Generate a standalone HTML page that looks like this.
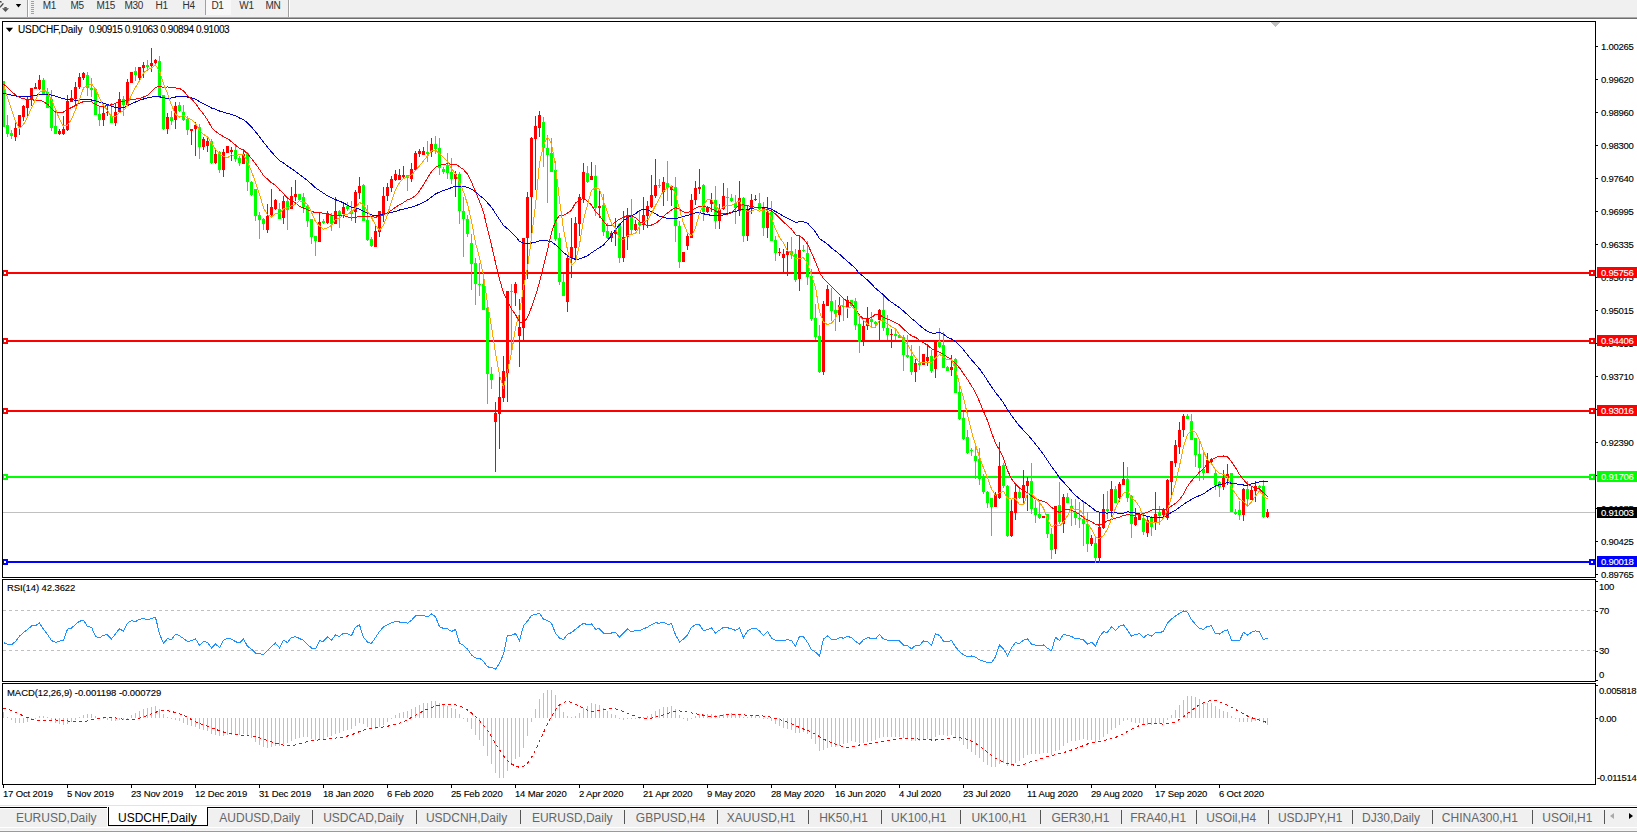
<!DOCTYPE html>
<html><head><meta charset="utf-8"><style>
html,body{margin:0;padding:0;}
body{width:1637px;height:832px;position:relative;overflow:hidden;background:#fff;font-family:"Liberation Sans",sans-serif;}
.t{position:absolute;white-space:nowrap;line-height:1;-webkit-text-stroke:0.12px currentColor;}
svg{position:absolute;left:0;top:0;}
</style></head><body>
<div style="position:absolute;left:0;top:0;width:1637px;height:17px;background:#f0f0f0"></div>
<div style="position:absolute;left:0;top:17px;width:1637px;height:1px;background:#a8a8a8"></div>
<div style="position:absolute;left:0;top:18px;width:1637px;height:1px;background:#6e6e6e"></div>
<div style="position:absolute;left:205px;top:0;width:25px;height:15px;background:#f8f8f8;border-left:1px solid #a0a0a0"></div>
<div style="position:absolute;left:27px;top:0;width:1px;height:17px;background:#a0a0a0"></div>
<div style="position:absolute;left:28px;top:0;width:1px;height:17px;background:#fff"></div>
<div style="position:absolute;left:288px;top:0;width:1px;height:17px;background:#a0a0a0"></div>
<div style="position:absolute;left:289px;top:0;width:1px;height:17px;background:#fff"></div>
<div style="position:absolute;left:31px;top:1px;width:3px;height:14px;background:repeating-linear-gradient(#a0a0a0 0 1px,transparent 1px 2px)"></div>
<svg width="30" height="17" style="position:absolute;left:0;top:0"><polygon points="15.8,3.9 21.2,3.9 18.5,7.4" fill="#000"/></svg>
<svg width="12" height="17" style="position:absolute;left:0;top:0"><polygon points="0,1 1.2,1 2,2.6 0,2.6" fill="#444"/><path d="M3.4,3.4 L0,7.2" stroke="#444" stroke-width="1.4"/><polygon points="2,8.2 9,8.2 5.5,12" fill="#555"/><rect x="4.3" y="7" width="2.4" height="1.4" fill="#555"/></svg>
<div class="t" style="left:42.8px;top:0.5px;font-size:10px;color:#303030;letter-spacing:-0.3px;-webkit-text-stroke:0">M1</div><div class="t" style="left:70.6px;top:0.5px;font-size:10px;color:#303030;letter-spacing:-0.3px;-webkit-text-stroke:0">M5</div><div class="t" style="left:96.5px;top:0.5px;font-size:10px;color:#303030;letter-spacing:-0.3px;-webkit-text-stroke:0">M15</div><div class="t" style="left:124.4px;top:0.5px;font-size:10px;color:#303030;letter-spacing:-0.3px;-webkit-text-stroke:0">M30</div><div class="t" style="left:155.6px;top:0.5px;font-size:10px;color:#303030;letter-spacing:-0.3px;-webkit-text-stroke:0">H1</div><div class="t" style="left:182.5px;top:0.5px;font-size:10px;color:#303030;letter-spacing:-0.3px;-webkit-text-stroke:0">H4</div><div class="t" style="left:211.4px;top:0.5px;font-size:10px;color:#303030;letter-spacing:-0.3px;-webkit-text-stroke:0">D1</div><div class="t" style="left:239.3px;top:0.5px;font-size:10px;color:#303030;letter-spacing:-0.3px;-webkit-text-stroke:0">W1</div><div class="t" style="left:265.5px;top:0.5px;font-size:10px;color:#303030;letter-spacing:-0.3px;-webkit-text-stroke:0">MN</div>
<svg width="1637" height="832" shape-rendering="crispEdges">
<defs><clipPath id="cm"><rect x="3" y="22" width="1592" height="555"/></clipPath><clipPath id="cr"><rect x="3" y="580" width="1592" height="101"/></clipPath><clipPath id="cd"><rect x="3" y="684" width="1592" height="100"/></clipPath></defs>
<g clip-path="url(#cm)">
<rect x="3" y="512" width="1592" height="1" fill="#c0c0c0"/>
<polygon points="1271,22 1280,22 1275.5,27" fill="#c0c0c0"/>
<rect x="3" y="272" width="1592" height="2" fill="#ff0000"/>
<rect x="2" y="270" width="6" height="6" fill="#ff0000"/>
<rect x="4" y="272" width="2" height="2" fill="#fff"/>
<rect x="1589" y="270" width="6" height="6" fill="#ff0000"/>
<rect x="1591" y="272" width="2" height="2" fill="#fff"/>
<rect x="3" y="340" width="1592" height="2" fill="#ff0000"/>
<rect x="2" y="338" width="6" height="6" fill="#ff0000"/>
<rect x="4" y="340" width="2" height="2" fill="#fff"/>
<rect x="1589" y="338" width="6" height="6" fill="#ff0000"/>
<rect x="1591" y="340" width="2" height="2" fill="#fff"/>
<rect x="3" y="410" width="1592" height="2" fill="#ff0000"/>
<rect x="2" y="408" width="6" height="6" fill="#ff0000"/>
<rect x="4" y="410" width="2" height="2" fill="#fff"/>
<rect x="1589" y="408" width="6" height="6" fill="#ff0000"/>
<rect x="1591" y="410" width="2" height="2" fill="#fff"/>
<rect x="3" y="476" width="1592" height="2" fill="#00ff00"/>
<rect x="2" y="474" width="6" height="6" fill="#00ff00"/>
<rect x="4" y="476" width="2" height="2" fill="#fff"/>
<rect x="1589" y="474" width="6" height="6" fill="#00ff00"/>
<rect x="1591" y="476" width="2" height="2" fill="#fff"/>
<rect x="3" y="561" width="1592" height="2" fill="#0000ff"/>
<rect x="2" y="559" width="6" height="6" fill="#0000ff"/>
<rect x="4" y="561" width="2" height="2" fill="#fff"/>
<rect x="1589" y="559" width="6" height="6" fill="#0000ff"/>
<rect x="1591" y="561" width="2" height="2" fill="#fff"/>
<rect x="3" y="81" width="1" height="46" fill="#00ff00"/>
<rect x="2" y="81" width="3" height="46" fill="#00ff00"/>
<rect x="7" y="115" width="1" height="22" fill="#00ff00"/>
<rect x="6" y="125" width="3" height="9" fill="#00ff00"/>
<rect x="11" y="130" width="1" height="9" fill="#00ff00"/>
<rect x="10" y="133" width="3" height="3" fill="#00ff00"/>
<rect x="15" y="123" width="1" height="18" fill="#ff0000"/>
<rect x="14" y="128" width="3" height="9" fill="#ff0000"/>
<rect x="19" y="115" width="1" height="20" fill="#ff0000"/>
<rect x="18" y="115" width="3" height="13" fill="#ff0000"/>
<rect x="23" y="105" width="1" height="16" fill="#ff0000"/>
<rect x="22" y="106" width="3" height="11" fill="#ff0000"/>
<rect x="27" y="97" width="1" height="19" fill="#ff0000"/>
<rect x="26" y="99" width="3" height="9" fill="#ff0000"/>
<rect x="31" y="88" width="1" height="18" fill="#ff0000"/>
<rect x="30" y="88" width="3" height="12" fill="#ff0000"/>
<rect x="35" y="83" width="1" height="6" fill="#ff0000"/>
<rect x="34" y="87" width="3" height="2" fill="#ff0000"/>
<rect x="39" y="75" width="1" height="15" fill="#ff0000"/>
<rect x="38" y="80" width="3" height="9" fill="#ff0000"/>
<rect x="43" y="78" width="1" height="17" fill="#00ff00"/>
<rect x="42" y="80" width="3" height="14" fill="#00ff00"/>
<rect x="47" y="88" width="1" height="20" fill="#00ff00"/>
<rect x="46" y="92" width="3" height="16" fill="#00ff00"/>
<rect x="51" y="90" width="1" height="41" fill="#00ff00"/>
<rect x="50" y="99" width="3" height="29" fill="#00ff00"/>
<rect x="55" y="113" width="1" height="21" fill="#00ff00"/>
<rect x="54" y="126" width="3" height="8" fill="#00ff00"/>
<rect x="59" y="129" width="1" height="6" fill="#ff0000"/>
<rect x="58" y="131" width="3" height="3" fill="#ff0000"/>
<rect x="63" y="116" width="1" height="19" fill="#ff0000"/>
<rect x="62" y="129" width="3" height="5" fill="#ff0000"/>
<rect x="67" y="95" width="1" height="36" fill="#ff0000"/>
<rect x="66" y="101" width="3" height="29" fill="#ff0000"/>
<rect x="71" y="90" width="1" height="12" fill="#ff0000"/>
<rect x="70" y="98" width="3" height="4" fill="#ff0000"/>
<rect x="75" y="82" width="1" height="23" fill="#ff0000"/>
<rect x="74" y="87" width="3" height="12" fill="#ff0000"/>
<rect x="79" y="73" width="1" height="16" fill="#ff0000"/>
<rect x="78" y="77" width="3" height="10" fill="#ff0000"/>
<rect x="83" y="72" width="1" height="8" fill="#ff0000"/>
<rect x="82" y="73" width="3" height="5" fill="#ff0000"/>
<rect x="87" y="72" width="1" height="24" fill="#00ff00"/>
<rect x="86" y="75" width="3" height="13" fill="#00ff00"/>
<rect x="91" y="78" width="1" height="19" fill="#00ff00"/>
<rect x="90" y="88" width="3" height="2" fill="#00ff00"/>
<rect x="95" y="89" width="1" height="26" fill="#00ff00"/>
<rect x="94" y="89" width="3" height="26" fill="#00ff00"/>
<rect x="99" y="107" width="1" height="19" fill="#00ff00"/>
<rect x="98" y="114" width="3" height="6" fill="#00ff00"/>
<rect x="103" y="106" width="1" height="20" fill="#ff0000"/>
<rect x="102" y="113" width="3" height="7" fill="#ff0000"/>
<rect x="107" y="104" width="1" height="12" fill="#ff0000"/>
<rect x="106" y="112" width="3" height="1" fill="#ff0000"/>
<rect x="111" y="103" width="1" height="20" fill="#00ff00"/>
<rect x="110" y="116" width="3" height="7" fill="#00ff00"/>
<rect x="115" y="103" width="1" height="23" fill="#ff0000"/>
<rect x="114" y="112" width="3" height="11" fill="#ff0000"/>
<rect x="119" y="92" width="1" height="21" fill="#ff0000"/>
<rect x="118" y="99" width="3" height="13" fill="#ff0000"/>
<rect x="123" y="96" width="1" height="20" fill="#00ff00"/>
<rect x="122" y="99" width="3" height="6" fill="#00ff00"/>
<rect x="127" y="79" width="1" height="26" fill="#ff0000"/>
<rect x="126" y="82" width="3" height="23" fill="#ff0000"/>
<rect x="131" y="72" width="1" height="11" fill="#ff0000"/>
<rect x="130" y="72" width="3" height="11" fill="#ff0000"/>
<rect x="135" y="67" width="1" height="14" fill="#00ff00"/>
<rect x="134" y="71" width="3" height="4" fill="#00ff00"/>
<rect x="139" y="67" width="1" height="13" fill="#ff0000"/>
<rect x="138" y="67" width="3" height="11" fill="#ff0000"/>
<rect x="143" y="62" width="1" height="16" fill="#ff0000"/>
<rect x="142" y="65" width="3" height="3" fill="#ff0000"/>
<rect x="147" y="60" width="1" height="11" fill="#00ff00"/>
<rect x="146" y="65" width="3" height="2" fill="#00ff00"/>
<rect x="151" y="48" width="1" height="24" fill="#ff0000"/>
<rect x="150" y="63" width="3" height="3" fill="#ff0000"/>
<rect x="155" y="59" width="1" height="5" fill="#ff0000"/>
<rect x="154" y="60" width="3" height="3" fill="#ff0000"/>
<rect x="159" y="56" width="1" height="42" fill="#00ff00"/>
<rect x="158" y="61" width="3" height="35" fill="#00ff00"/>
<rect x="163" y="95" width="1" height="35" fill="#00ff00"/>
<rect x="162" y="95" width="3" height="34" fill="#00ff00"/>
<rect x="167" y="113" width="1" height="21" fill="#ff0000"/>
<rect x="166" y="117" width="3" height="12" fill="#ff0000"/>
<rect x="171" y="111" width="1" height="14" fill="#00ff00"/>
<rect x="170" y="117" width="3" height="4" fill="#00ff00"/>
<rect x="175" y="102" width="1" height="27" fill="#ff0000"/>
<rect x="174" y="106" width="3" height="14" fill="#ff0000"/>
<rect x="179" y="102" width="1" height="10" fill="#00ff00"/>
<rect x="178" y="105" width="3" height="6" fill="#00ff00"/>
<rect x="183" y="105" width="1" height="16" fill="#00ff00"/>
<rect x="182" y="112" width="3" height="8" fill="#00ff00"/>
<rect x="187" y="116" width="1" height="19" fill="#00ff00"/>
<rect x="186" y="119" width="3" height="11" fill="#00ff00"/>
<rect x="191" y="129" width="1" height="16" fill="#ff0000"/>
<rect x="190" y="129" width="3" height="2" fill="#ff0000"/>
<rect x="195" y="122" width="1" height="34" fill="#ff0000"/>
<rect x="194" y="125" width="3" height="4" fill="#ff0000"/>
<rect x="199" y="124" width="1" height="35" fill="#00ff00"/>
<rect x="198" y="127" width="3" height="20" fill="#00ff00"/>
<rect x="203" y="137" width="1" height="13" fill="#ff0000"/>
<rect x="202" y="139" width="3" height="8" fill="#ff0000"/>
<rect x="207" y="137" width="1" height="15" fill="#ff0000"/>
<rect x="206" y="141" width="3" height="5" fill="#ff0000"/>
<rect x="211" y="139" width="1" height="25" fill="#00ff00"/>
<rect x="210" y="141" width="3" height="22" fill="#00ff00"/>
<rect x="215" y="150" width="1" height="14" fill="#ff0000"/>
<rect x="214" y="154" width="3" height="9" fill="#ff0000"/>
<rect x="219" y="151" width="1" height="22" fill="#00ff00"/>
<rect x="218" y="152" width="3" height="18" fill="#00ff00"/>
<rect x="223" y="149" width="1" height="28" fill="#ff0000"/>
<rect x="222" y="152" width="3" height="18" fill="#ff0000"/>
<rect x="227" y="146" width="1" height="7" fill="#ff0000"/>
<rect x="226" y="146" width="3" height="7" fill="#ff0000"/>
<rect x="231" y="147" width="1" height="14" fill="#ff0000"/>
<rect x="230" y="150" width="3" height="2" fill="#ff0000"/>
<rect x="235" y="145" width="1" height="17" fill="#00ff00"/>
<rect x="234" y="150" width="3" height="9" fill="#00ff00"/>
<rect x="239" y="156" width="1" height="10" fill="#00ff00"/>
<rect x="238" y="158" width="3" height="5" fill="#00ff00"/>
<rect x="243" y="151" width="1" height="13" fill="#ff0000"/>
<rect x="242" y="154" width="3" height="10" fill="#ff0000"/>
<rect x="247" y="152" width="1" height="39" fill="#00ff00"/>
<rect x="246" y="153" width="3" height="29" fill="#00ff00"/>
<rect x="251" y="181" width="1" height="15" fill="#00ff00"/>
<rect x="250" y="182" width="3" height="13" fill="#00ff00"/>
<rect x="255" y="189" width="1" height="32" fill="#00ff00"/>
<rect x="254" y="189" width="3" height="27" fill="#00ff00"/>
<rect x="259" y="212" width="1" height="27" fill="#00ff00"/>
<rect x="258" y="215" width="3" height="5" fill="#00ff00"/>
<rect x="263" y="218" width="1" height="12" fill="#00ff00"/>
<rect x="262" y="219" width="3" height="5" fill="#00ff00"/>
<rect x="267" y="204" width="1" height="29" fill="#ff0000"/>
<rect x="266" y="216" width="3" height="14" fill="#ff0000"/>
<rect x="271" y="189" width="1" height="29" fill="#ff0000"/>
<rect x="270" y="207" width="3" height="8" fill="#ff0000"/>
<rect x="275" y="199" width="1" height="11" fill="#ff0000"/>
<rect x="274" y="200" width="3" height="9" fill="#ff0000"/>
<rect x="279" y="203" width="1" height="16" fill="#00ff00"/>
<rect x="278" y="209" width="3" height="10" fill="#00ff00"/>
<rect x="283" y="196" width="1" height="28" fill="#ff0000"/>
<rect x="282" y="201" width="3" height="17" fill="#ff0000"/>
<rect x="287" y="198" width="1" height="32" fill="#00ff00"/>
<rect x="286" y="201" width="3" height="9" fill="#00ff00"/>
<rect x="291" y="187" width="1" height="22" fill="#ff0000"/>
<rect x="290" y="196" width="3" height="13" fill="#ff0000"/>
<rect x="295" y="180" width="1" height="21" fill="#ff0000"/>
<rect x="294" y="194" width="3" height="3" fill="#ff0000"/>
<rect x="299" y="194" width="1" height="6" fill="#00ff00"/>
<rect x="298" y="194" width="3" height="6" fill="#00ff00"/>
<rect x="303" y="193" width="1" height="20" fill="#00ff00"/>
<rect x="302" y="197" width="3" height="10" fill="#00ff00"/>
<rect x="307" y="205" width="1" height="22" fill="#00ff00"/>
<rect x="306" y="206" width="3" height="15" fill="#00ff00"/>
<rect x="311" y="219" width="1" height="25" fill="#00ff00"/>
<rect x="310" y="219" width="3" height="18" fill="#00ff00"/>
<rect x="315" y="236" width="1" height="20" fill="#00ff00"/>
<rect x="314" y="236" width="3" height="5" fill="#00ff00"/>
<rect x="319" y="212" width="1" height="30" fill="#ff0000"/>
<rect x="318" y="222" width="3" height="20" fill="#ff0000"/>
<rect x="323" y="219" width="1" height="5" fill="#00ff00"/>
<rect x="322" y="221" width="3" height="2" fill="#00ff00"/>
<rect x="327" y="211" width="1" height="13" fill="#ff0000"/>
<rect x="326" y="213" width="3" height="10" fill="#ff0000"/>
<rect x="331" y="213" width="1" height="18" fill="#00ff00"/>
<rect x="330" y="215" width="3" height="9" fill="#00ff00"/>
<rect x="335" y="197" width="1" height="27" fill="#ff0000"/>
<rect x="334" y="211" width="3" height="13" fill="#ff0000"/>
<rect x="339" y="210" width="1" height="18" fill="#00ff00"/>
<rect x="338" y="211" width="3" height="4" fill="#00ff00"/>
<rect x="343" y="203" width="1" height="15" fill="#ff0000"/>
<rect x="342" y="207" width="3" height="7" fill="#ff0000"/>
<rect x="347" y="202" width="1" height="9" fill="#00ff00"/>
<rect x="346" y="206" width="3" height="3" fill="#00ff00"/>
<rect x="351" y="201" width="1" height="20" fill="#00ff00"/>
<rect x="350" y="211" width="3" height="3" fill="#00ff00"/>
<rect x="355" y="190" width="1" height="33" fill="#ff0000"/>
<rect x="354" y="192" width="3" height="20" fill="#ff0000"/>
<rect x="359" y="177" width="1" height="22" fill="#ff0000"/>
<rect x="358" y="186" width="3" height="7" fill="#ff0000"/>
<rect x="363" y="184" width="1" height="37" fill="#00ff00"/>
<rect x="362" y="185" width="3" height="36" fill="#00ff00"/>
<rect x="367" y="205" width="1" height="36" fill="#00ff00"/>
<rect x="366" y="220" width="3" height="20" fill="#00ff00"/>
<rect x="371" y="237" width="1" height="10" fill="#00ff00"/>
<rect x="370" y="239" width="3" height="7" fill="#00ff00"/>
<rect x="375" y="226" width="1" height="21" fill="#ff0000"/>
<rect x="374" y="231" width="3" height="16" fill="#ff0000"/>
<rect x="379" y="211" width="1" height="26" fill="#ff0000"/>
<rect x="378" y="211" width="3" height="21" fill="#ff0000"/>
<rect x="383" y="187" width="1" height="35" fill="#ff0000"/>
<rect x="382" y="196" width="3" height="18" fill="#ff0000"/>
<rect x="387" y="183" width="1" height="18" fill="#ff0000"/>
<rect x="386" y="187" width="3" height="9" fill="#ff0000"/>
<rect x="391" y="176" width="1" height="16" fill="#ff0000"/>
<rect x="390" y="179" width="3" height="9" fill="#ff0000"/>
<rect x="395" y="170" width="1" height="11" fill="#ff0000"/>
<rect x="394" y="174" width="3" height="6" fill="#ff0000"/>
<rect x="399" y="169" width="1" height="11" fill="#ff0000"/>
<rect x="398" y="175" width="3" height="5" fill="#ff0000"/>
<rect x="403" y="166" width="1" height="12" fill="#ff0000"/>
<rect x="402" y="175" width="3" height="2" fill="#ff0000"/>
<rect x="407" y="175" width="1" height="16" fill="#00ff00"/>
<rect x="406" y="175" width="3" height="3" fill="#00ff00"/>
<rect x="411" y="163" width="1" height="19" fill="#ff0000"/>
<rect x="410" y="169" width="3" height="10" fill="#ff0000"/>
<rect x="415" y="151" width="1" height="19" fill="#ff0000"/>
<rect x="414" y="153" width="3" height="17" fill="#ff0000"/>
<rect x="419" y="149" width="1" height="8" fill="#ff0000"/>
<rect x="418" y="151" width="3" height="3" fill="#ff0000"/>
<rect x="423" y="147" width="1" height="8" fill="#ff0000"/>
<rect x="422" y="151" width="3" height="4" fill="#ff0000"/>
<rect x="427" y="141" width="1" height="21" fill="#00ff00"/>
<rect x="426" y="152" width="3" height="2" fill="#00ff00"/>
<rect x="431" y="138" width="1" height="19" fill="#ff0000"/>
<rect x="430" y="144" width="3" height="8" fill="#ff0000"/>
<rect x="435" y="136" width="1" height="18" fill="#00ff00"/>
<rect x="434" y="144" width="3" height="5" fill="#00ff00"/>
<rect x="439" y="138" width="1" height="37" fill="#00ff00"/>
<rect x="438" y="148" width="3" height="20" fill="#00ff00"/>
<rect x="443" y="167" width="1" height="7" fill="#00ff00"/>
<rect x="442" y="169" width="3" height="3" fill="#00ff00"/>
<rect x="447" y="153" width="1" height="26" fill="#00ff00"/>
<rect x="446" y="165" width="3" height="8" fill="#00ff00"/>
<rect x="451" y="158" width="1" height="26" fill="#00ff00"/>
<rect x="450" y="172" width="3" height="7" fill="#00ff00"/>
<rect x="455" y="171" width="1" height="26" fill="#ff0000"/>
<rect x="454" y="174" width="3" height="5" fill="#ff0000"/>
<rect x="459" y="172" width="1" height="52" fill="#00ff00"/>
<rect x="458" y="174" width="3" height="37" fill="#00ff00"/>
<rect x="463" y="197" width="1" height="60" fill="#00ff00"/>
<rect x="462" y="211" width="3" height="8" fill="#00ff00"/>
<rect x="467" y="215" width="1" height="22" fill="#00ff00"/>
<rect x="466" y="219" width="3" height="15" fill="#00ff00"/>
<rect x="471" y="234" width="1" height="56" fill="#00ff00"/>
<rect x="470" y="243" width="3" height="21" fill="#00ff00"/>
<rect x="475" y="258" width="1" height="47" fill="#00ff00"/>
<rect x="474" y="263" width="3" height="21" fill="#00ff00"/>
<rect x="479" y="263" width="1" height="33" fill="#00ff00"/>
<rect x="478" y="284" width="3" height="1" fill="#00ff00"/>
<rect x="483" y="278" width="1" height="32" fill="#00ff00"/>
<rect x="482" y="284" width="3" height="26" fill="#00ff00"/>
<rect x="487" y="306" width="1" height="98" fill="#00ff00"/>
<rect x="486" y="308" width="3" height="66" fill="#00ff00"/>
<rect x="491" y="367" width="1" height="22" fill="#00ff00"/>
<rect x="490" y="374" width="3" height="6" fill="#00ff00"/>
<rect x="495" y="402" width="1" height="70" fill="#ff0000"/>
<rect x="494" y="413" width="3" height="9" fill="#ff0000"/>
<rect x="499" y="376" width="1" height="73" fill="#ff0000"/>
<rect x="498" y="397" width="3" height="17" fill="#ff0000"/>
<rect x="503" y="356" width="1" height="46" fill="#ff0000"/>
<rect x="502" y="371" width="3" height="27" fill="#ff0000"/>
<rect x="507" y="291" width="1" height="111" fill="#ff0000"/>
<rect x="506" y="291" width="3" height="82" fill="#ff0000"/>
<rect x="511" y="284" width="1" height="66" fill="#00ff00"/>
<rect x="510" y="291" width="3" height="1" fill="#00ff00"/>
<rect x="515" y="282" width="1" height="24" fill="#ff0000"/>
<rect x="514" y="284" width="3" height="9" fill="#ff0000"/>
<rect x="519" y="299" width="1" height="68" fill="#ff0000"/>
<rect x="518" y="327" width="3" height="9" fill="#ff0000"/>
<rect x="523" y="238" width="1" height="102" fill="#ff0000"/>
<rect x="522" y="238" width="3" height="90" fill="#ff0000"/>
<rect x="527" y="192" width="1" height="87" fill="#ff0000"/>
<rect x="526" y="197" width="3" height="41" fill="#ff0000"/>
<rect x="531" y="137" width="1" height="96" fill="#ff0000"/>
<rect x="530" y="138" width="3" height="59" fill="#ff0000"/>
<rect x="535" y="116" width="1" height="74" fill="#ff0000"/>
<rect x="534" y="126" width="3" height="13" fill="#ff0000"/>
<rect x="539" y="111" width="1" height="26" fill="#ff0000"/>
<rect x="538" y="115" width="3" height="13" fill="#ff0000"/>
<rect x="543" y="117" width="1" height="50" fill="#00ff00"/>
<rect x="542" y="122" width="3" height="26" fill="#00ff00"/>
<rect x="547" y="135" width="1" height="68" fill="#00ff00"/>
<rect x="546" y="148" width="3" height="7" fill="#00ff00"/>
<rect x="551" y="138" width="1" height="34" fill="#00ff00"/>
<rect x="550" y="153" width="3" height="19" fill="#00ff00"/>
<rect x="555" y="161" width="1" height="80" fill="#00ff00"/>
<rect x="554" y="170" width="3" height="69" fill="#00ff00"/>
<rect x="559" y="233" width="1" height="52" fill="#00ff00"/>
<rect x="558" y="238" width="3" height="44" fill="#00ff00"/>
<rect x="563" y="274" width="1" height="22" fill="#00ff00"/>
<rect x="562" y="282" width="3" height="14" fill="#00ff00"/>
<rect x="567" y="256" width="1" height="56" fill="#ff0000"/>
<rect x="566" y="258" width="3" height="44" fill="#ff0000"/>
<rect x="571" y="218" width="1" height="60" fill="#ff0000"/>
<rect x="570" y="247" width="3" height="11" fill="#ff0000"/>
<rect x="575" y="217" width="1" height="42" fill="#ff0000"/>
<rect x="574" y="223" width="3" height="25" fill="#ff0000"/>
<rect x="579" y="194" width="1" height="42" fill="#ff0000"/>
<rect x="578" y="197" width="3" height="27" fill="#ff0000"/>
<rect x="583" y="163" width="1" height="40" fill="#ff0000"/>
<rect x="582" y="172" width="3" height="26" fill="#ff0000"/>
<rect x="587" y="166" width="1" height="17" fill="#00ff00"/>
<rect x="586" y="173" width="3" height="9" fill="#00ff00"/>
<rect x="591" y="162" width="1" height="18" fill="#ff0000"/>
<rect x="590" y="176" width="3" height="4" fill="#ff0000"/>
<rect x="595" y="165" width="1" height="51" fill="#00ff00"/>
<rect x="594" y="176" width="3" height="32" fill="#00ff00"/>
<rect x="599" y="190" width="1" height="28" fill="#ff0000"/>
<rect x="598" y="206" width="3" height="2" fill="#ff0000"/>
<rect x="603" y="194" width="1" height="42" fill="#00ff00"/>
<rect x="602" y="205" width="3" height="27" fill="#00ff00"/>
<rect x="607" y="223" width="1" height="16" fill="#00ff00"/>
<rect x="606" y="231" width="3" height="7" fill="#00ff00"/>
<rect x="611" y="231" width="1" height="11" fill="#ff0000"/>
<rect x="610" y="233" width="3" height="5" fill="#ff0000"/>
<rect x="615" y="218" width="1" height="28" fill="#ff0000"/>
<rect x="614" y="230" width="3" height="4" fill="#ff0000"/>
<rect x="619" y="223" width="1" height="40" fill="#00ff00"/>
<rect x="618" y="224" width="3" height="34" fill="#00ff00"/>
<rect x="623" y="211" width="1" height="51" fill="#ff0000"/>
<rect x="622" y="237" width="3" height="21" fill="#ff0000"/>
<rect x="627" y="208" width="1" height="42" fill="#ff0000"/>
<rect x="626" y="215" width="3" height="22" fill="#ff0000"/>
<rect x="631" y="199" width="1" height="35" fill="#00ff00"/>
<rect x="630" y="216" width="3" height="14" fill="#00ff00"/>
<rect x="635" y="220" width="1" height="11" fill="#ff0000"/>
<rect x="634" y="224" width="3" height="6" fill="#ff0000"/>
<rect x="639" y="211" width="1" height="23" fill="#00ff00"/>
<rect x="638" y="222" width="3" height="3" fill="#00ff00"/>
<rect x="643" y="197" width="1" height="33" fill="#ff0000"/>
<rect x="642" y="215" width="3" height="10" fill="#ff0000"/>
<rect x="647" y="201" width="1" height="27" fill="#ff0000"/>
<rect x="646" y="206" width="3" height="10" fill="#ff0000"/>
<rect x="651" y="175" width="1" height="33" fill="#ff0000"/>
<rect x="650" y="195" width="3" height="12" fill="#ff0000"/>
<rect x="655" y="159" width="1" height="39" fill="#ff0000"/>
<rect x="654" y="185" width="3" height="11" fill="#ff0000"/>
<rect x="659" y="179" width="1" height="9" fill="#00ff00"/>
<rect x="658" y="185" width="3" height="1" fill="#00ff00"/>
<rect x="663" y="177" width="1" height="29" fill="#ff0000"/>
<rect x="662" y="182" width="3" height="10" fill="#ff0000"/>
<rect x="667" y="161" width="1" height="40" fill="#00ff00"/>
<rect x="666" y="183" width="3" height="5" fill="#00ff00"/>
<rect x="671" y="185" width="1" height="21" fill="#ff0000"/>
<rect x="670" y="186" width="3" height="4" fill="#ff0000"/>
<rect x="675" y="177" width="1" height="65" fill="#00ff00"/>
<rect x="674" y="187" width="3" height="39" fill="#00ff00"/>
<rect x="679" y="221" width="1" height="47" fill="#00ff00"/>
<rect x="678" y="226" width="3" height="36" fill="#00ff00"/>
<rect x="683" y="252" width="1" height="10" fill="#ff0000"/>
<rect x="682" y="252" width="3" height="10" fill="#ff0000"/>
<rect x="687" y="234" width="1" height="16" fill="#ff0000"/>
<rect x="686" y="236" width="3" height="10" fill="#ff0000"/>
<rect x="691" y="194" width="1" height="44" fill="#ff0000"/>
<rect x="690" y="200" width="3" height="38" fill="#ff0000"/>
<rect x="695" y="181" width="1" height="24" fill="#ff0000"/>
<rect x="694" y="188" width="3" height="12" fill="#ff0000"/>
<rect x="699" y="169" width="1" height="25" fill="#ff0000"/>
<rect x="698" y="187" width="3" height="2" fill="#ff0000"/>
<rect x="703" y="184" width="1" height="37" fill="#00ff00"/>
<rect x="702" y="185" width="3" height="27" fill="#00ff00"/>
<rect x="707" y="206" width="1" height="7" fill="#ff0000"/>
<rect x="706" y="207" width="3" height="5" fill="#ff0000"/>
<rect x="711" y="193" width="1" height="19" fill="#ff0000"/>
<rect x="710" y="200" width="3" height="4" fill="#ff0000"/>
<rect x="715" y="186" width="1" height="43" fill="#00ff00"/>
<rect x="714" y="200" width="3" height="21" fill="#00ff00"/>
<rect x="719" y="204" width="1" height="25" fill="#ff0000"/>
<rect x="718" y="209" width="3" height="12" fill="#ff0000"/>
<rect x="723" y="183" width="1" height="27" fill="#ff0000"/>
<rect x="722" y="196" width="3" height="13" fill="#ff0000"/>
<rect x="727" y="188" width="1" height="27" fill="#00ff00"/>
<rect x="726" y="197" width="3" height="1" fill="#00ff00"/>
<rect x="731" y="194" width="1" height="8" fill="#00ff00"/>
<rect x="730" y="198" width="3" height="3" fill="#00ff00"/>
<rect x="735" y="195" width="1" height="29" fill="#00ff00"/>
<rect x="734" y="203" width="3" height="5" fill="#00ff00"/>
<rect x="739" y="181" width="1" height="35" fill="#ff0000"/>
<rect x="738" y="198" width="3" height="13" fill="#ff0000"/>
<rect x="743" y="197" width="1" height="45" fill="#00ff00"/>
<rect x="742" y="198" width="3" height="38" fill="#00ff00"/>
<rect x="747" y="205" width="1" height="36" fill="#ff0000"/>
<rect x="746" y="210" width="3" height="26" fill="#ff0000"/>
<rect x="751" y="194" width="1" height="20" fill="#ff0000"/>
<rect x="750" y="200" width="3" height="9" fill="#ff0000"/>
<rect x="755" y="195" width="1" height="6" fill="#ff0000"/>
<rect x="754" y="199" width="3" height="1" fill="#ff0000"/>
<rect x="759" y="193" width="1" height="17" fill="#00ff00"/>
<rect x="758" y="203" width="3" height="6" fill="#00ff00"/>
<rect x="763" y="202" width="1" height="34" fill="#00ff00"/>
<rect x="762" y="209" width="3" height="19" fill="#00ff00"/>
<rect x="767" y="197" width="1" height="41" fill="#ff0000"/>
<rect x="766" y="212" width="3" height="16" fill="#ff0000"/>
<rect x="771" y="201" width="1" height="40" fill="#00ff00"/>
<rect x="770" y="212" width="3" height="29" fill="#00ff00"/>
<rect x="775" y="236" width="1" height="25" fill="#00ff00"/>
<rect x="774" y="240" width="3" height="13" fill="#00ff00"/>
<rect x="779" y="248" width="1" height="8" fill="#ff0000"/>
<rect x="778" y="252" width="3" height="1" fill="#ff0000"/>
<rect x="783" y="249" width="1" height="23" fill="#ff0000"/>
<rect x="782" y="254" width="3" height="4" fill="#ff0000"/>
<rect x="787" y="242" width="1" height="34" fill="#ff0000"/>
<rect x="786" y="251" width="3" height="4" fill="#ff0000"/>
<rect x="791" y="237" width="1" height="22" fill="#00ff00"/>
<rect x="790" y="251" width="3" height="4" fill="#00ff00"/>
<rect x="795" y="249" width="1" height="33" fill="#00ff00"/>
<rect x="794" y="254" width="3" height="26" fill="#00ff00"/>
<rect x="799" y="236" width="1" height="55" fill="#ff0000"/>
<rect x="798" y="250" width="3" height="29" fill="#ff0000"/>
<rect x="803" y="245" width="1" height="7" fill="#00ff00"/>
<rect x="802" y="250" width="3" height="1" fill="#00ff00"/>
<rect x="807" y="241" width="1" height="44" fill="#00ff00"/>
<rect x="806" y="253" width="3" height="24" fill="#00ff00"/>
<rect x="811" y="269" width="1" height="52" fill="#00ff00"/>
<rect x="810" y="276" width="3" height="43" fill="#00ff00"/>
<rect x="815" y="304" width="1" height="36" fill="#00ff00"/>
<rect x="814" y="318" width="3" height="19" fill="#00ff00"/>
<rect x="819" y="325" width="1" height="48" fill="#00ff00"/>
<rect x="818" y="336" width="3" height="36" fill="#00ff00"/>
<rect x="823" y="301" width="1" height="74" fill="#ff0000"/>
<rect x="822" y="304" width="3" height="68" fill="#ff0000"/>
<rect x="827" y="285" width="1" height="21" fill="#ff0000"/>
<rect x="826" y="289" width="3" height="17" fill="#ff0000"/>
<rect x="831" y="288" width="1" height="33" fill="#00ff00"/>
<rect x="830" y="301" width="3" height="10" fill="#00ff00"/>
<rect x="835" y="300" width="1" height="31" fill="#00ff00"/>
<rect x="834" y="310" width="3" height="4" fill="#00ff00"/>
<rect x="839" y="297" width="1" height="25" fill="#ff0000"/>
<rect x="838" y="305" width="3" height="10" fill="#ff0000"/>
<rect x="843" y="299" width="1" height="22" fill="#00ff00"/>
<rect x="842" y="306" width="3" height="1" fill="#00ff00"/>
<rect x="847" y="296" width="1" height="22" fill="#ff0000"/>
<rect x="846" y="300" width="3" height="7" fill="#ff0000"/>
<rect x="851" y="300" width="1" height="6" fill="#00ff00"/>
<rect x="850" y="300" width="3" height="6" fill="#00ff00"/>
<rect x="855" y="298" width="1" height="32" fill="#00ff00"/>
<rect x="854" y="301" width="3" height="24" fill="#00ff00"/>
<rect x="859" y="316" width="1" height="37" fill="#00ff00"/>
<rect x="858" y="324" width="3" height="18" fill="#00ff00"/>
<rect x="863" y="320" width="1" height="26" fill="#ff0000"/>
<rect x="862" y="326" width="3" height="16" fill="#ff0000"/>
<rect x="867" y="307" width="1" height="23" fill="#ff0000"/>
<rect x="866" y="318" width="3" height="8" fill="#ff0000"/>
<rect x="871" y="312" width="1" height="16" fill="#00ff00"/>
<rect x="870" y="319" width="3" height="3" fill="#00ff00"/>
<rect x="875" y="321" width="1" height="7" fill="#00ff00"/>
<rect x="874" y="322" width="3" height="2" fill="#00ff00"/>
<rect x="879" y="309" width="1" height="31" fill="#ff0000"/>
<rect x="878" y="310" width="3" height="10" fill="#ff0000"/>
<rect x="883" y="294" width="1" height="37" fill="#00ff00"/>
<rect x="882" y="310" width="3" height="18" fill="#00ff00"/>
<rect x="887" y="315" width="1" height="25" fill="#00ff00"/>
<rect x="886" y="328" width="3" height="7" fill="#00ff00"/>
<rect x="891" y="329" width="1" height="19" fill="#ff0000"/>
<rect x="890" y="334" width="3" height="1" fill="#ff0000"/>
<rect x="895" y="328" width="1" height="12" fill="#00ff00"/>
<rect x="894" y="334" width="3" height="2" fill="#00ff00"/>
<rect x="899" y="334" width="1" height="4" fill="#00ff00"/>
<rect x="898" y="335" width="3" height="3" fill="#00ff00"/>
<rect x="903" y="335" width="1" height="36" fill="#00ff00"/>
<rect x="902" y="337" width="3" height="18" fill="#00ff00"/>
<rect x="907" y="335" width="1" height="23" fill="#00ff00"/>
<rect x="906" y="355" width="3" height="2" fill="#00ff00"/>
<rect x="911" y="345" width="1" height="30" fill="#00ff00"/>
<rect x="910" y="356" width="3" height="16" fill="#00ff00"/>
<rect x="915" y="359" width="1" height="23" fill="#ff0000"/>
<rect x="914" y="363" width="3" height="9" fill="#ff0000"/>
<rect x="919" y="346" width="1" height="24" fill="#00ff00"/>
<rect x="918" y="363" width="3" height="2" fill="#00ff00"/>
<rect x="923" y="354" width="1" height="11" fill="#ff0000"/>
<rect x="922" y="354" width="3" height="11" fill="#ff0000"/>
<rect x="927" y="344" width="1" height="22" fill="#ff0000"/>
<rect x="926" y="357" width="3" height="4" fill="#ff0000"/>
<rect x="931" y="350" width="1" height="23" fill="#00ff00"/>
<rect x="930" y="356" width="3" height="15" fill="#00ff00"/>
<rect x="935" y="341" width="1" height="37" fill="#ff0000"/>
<rect x="934" y="341" width="3" height="28" fill="#ff0000"/>
<rect x="939" y="328" width="1" height="20" fill="#00ff00"/>
<rect x="938" y="341" width="3" height="6" fill="#00ff00"/>
<rect x="943" y="332" width="1" height="36" fill="#00ff00"/>
<rect x="942" y="345" width="3" height="23" fill="#00ff00"/>
<rect x="947" y="366" width="1" height="5" fill="#00ff00"/>
<rect x="946" y="367" width="3" height="4" fill="#00ff00"/>
<rect x="951" y="355" width="1" height="21" fill="#ff0000"/>
<rect x="950" y="367" width="3" height="3" fill="#ff0000"/>
<rect x="955" y="358" width="1" height="35" fill="#00ff00"/>
<rect x="954" y="359" width="3" height="34" fill="#00ff00"/>
<rect x="959" y="386" width="1" height="34" fill="#00ff00"/>
<rect x="958" y="392" width="3" height="27" fill="#00ff00"/>
<rect x="963" y="412" width="1" height="28" fill="#00ff00"/>
<rect x="962" y="418" width="3" height="21" fill="#00ff00"/>
<rect x="967" y="430" width="1" height="24" fill="#00ff00"/>
<rect x="966" y="437" width="3" height="16" fill="#00ff00"/>
<rect x="971" y="448" width="1" height="8" fill="#00ff00"/>
<rect x="970" y="450" width="3" height="1" fill="#00ff00"/>
<rect x="975" y="447" width="1" height="32" fill="#00ff00"/>
<rect x="974" y="456" width="3" height="5" fill="#00ff00"/>
<rect x="979" y="448" width="1" height="37" fill="#00ff00"/>
<rect x="978" y="459" width="3" height="20" fill="#00ff00"/>
<rect x="983" y="474" width="1" height="20" fill="#00ff00"/>
<rect x="982" y="477" width="3" height="15" fill="#00ff00"/>
<rect x="987" y="491" width="1" height="17" fill="#00ff00"/>
<rect x="986" y="492" width="3" height="11" fill="#00ff00"/>
<rect x="991" y="498" width="1" height="38" fill="#00ff00"/>
<rect x="990" y="498" width="3" height="9" fill="#00ff00"/>
<rect x="995" y="492" width="1" height="15" fill="#ff0000"/>
<rect x="994" y="494" width="3" height="13" fill="#ff0000"/>
<rect x="999" y="442" width="1" height="57" fill="#ff0000"/>
<rect x="998" y="466" width="3" height="32" fill="#ff0000"/>
<rect x="1003" y="463" width="1" height="25" fill="#00ff00"/>
<rect x="1002" y="465" width="3" height="21" fill="#00ff00"/>
<rect x="1007" y="485" width="1" height="52" fill="#00ff00"/>
<rect x="1006" y="486" width="3" height="50" fill="#00ff00"/>
<rect x="1011" y="499" width="1" height="38" fill="#ff0000"/>
<rect x="1010" y="511" width="3" height="25" fill="#ff0000"/>
<rect x="1015" y="483" width="1" height="37" fill="#ff0000"/>
<rect x="1014" y="492" width="3" height="21" fill="#ff0000"/>
<rect x="1019" y="488" width="1" height="11" fill="#00ff00"/>
<rect x="1018" y="492" width="3" height="6" fill="#00ff00"/>
<rect x="1023" y="470" width="1" height="33" fill="#ff0000"/>
<rect x="1022" y="485" width="3" height="13" fill="#ff0000"/>
<rect x="1027" y="477" width="1" height="34" fill="#ff0000"/>
<rect x="1026" y="481" width="3" height="5" fill="#ff0000"/>
<rect x="1031" y="463" width="1" height="51" fill="#00ff00"/>
<rect x="1030" y="481" width="3" height="28" fill="#00ff00"/>
<rect x="1035" y="500" width="1" height="23" fill="#00ff00"/>
<rect x="1034" y="508" width="3" height="7" fill="#00ff00"/>
<rect x="1039" y="502" width="1" height="17" fill="#00ff00"/>
<rect x="1038" y="514" width="3" height="4" fill="#00ff00"/>
<rect x="1043" y="516" width="1" height="2" fill="#ff0000"/>
<rect x="1042" y="516" width="3" height="2" fill="#ff0000"/>
<rect x="1047" y="514" width="1" height="24" fill="#00ff00"/>
<rect x="1046" y="514" width="3" height="20" fill="#00ff00"/>
<rect x="1051" y="528" width="1" height="31" fill="#00ff00"/>
<rect x="1050" y="534" width="3" height="16" fill="#00ff00"/>
<rect x="1055" y="506" width="1" height="48" fill="#ff0000"/>
<rect x="1054" y="506" width="3" height="43" fill="#ff0000"/>
<rect x="1059" y="482" width="1" height="42" fill="#00ff00"/>
<rect x="1058" y="505" width="3" height="17" fill="#00ff00"/>
<rect x="1063" y="494" width="1" height="39" fill="#ff0000"/>
<rect x="1062" y="497" width="3" height="27" fill="#ff0000"/>
<rect x="1067" y="493" width="1" height="10" fill="#00ff00"/>
<rect x="1066" y="497" width="3" height="6" fill="#00ff00"/>
<rect x="1071" y="499" width="1" height="27" fill="#00ff00"/>
<rect x="1070" y="506" width="3" height="2" fill="#00ff00"/>
<rect x="1075" y="499" width="1" height="26" fill="#00ff00"/>
<rect x="1074" y="512" width="3" height="6" fill="#00ff00"/>
<rect x="1079" y="502" width="1" height="26" fill="#00ff00"/>
<rect x="1078" y="518" width="3" height="1" fill="#00ff00"/>
<rect x="1083" y="502" width="1" height="44" fill="#00ff00"/>
<rect x="1082" y="519" width="3" height="5" fill="#00ff00"/>
<rect x="1087" y="512" width="1" height="40" fill="#00ff00"/>
<rect x="1086" y="524" width="3" height="20" fill="#00ff00"/>
<rect x="1091" y="535" width="1" height="11" fill="#ff0000"/>
<rect x="1090" y="538" width="3" height="6" fill="#ff0000"/>
<rect x="1095" y="537" width="1" height="26" fill="#00ff00"/>
<rect x="1094" y="543" width="3" height="15" fill="#00ff00"/>
<rect x="1099" y="512" width="1" height="51" fill="#ff0000"/>
<rect x="1098" y="527" width="3" height="31" fill="#ff0000"/>
<rect x="1103" y="494" width="1" height="35" fill="#ff0000"/>
<rect x="1102" y="509" width="3" height="19" fill="#ff0000"/>
<rect x="1107" y="491" width="1" height="28" fill="#00ff00"/>
<rect x="1106" y="509" width="3" height="2" fill="#00ff00"/>
<rect x="1111" y="481" width="1" height="36" fill="#ff0000"/>
<rect x="1110" y="489" width="3" height="22" fill="#ff0000"/>
<rect x="1115" y="486" width="1" height="17" fill="#00ff00"/>
<rect x="1114" y="489" width="3" height="14" fill="#00ff00"/>
<rect x="1119" y="482" width="1" height="20" fill="#ff0000"/>
<rect x="1118" y="484" width="3" height="14" fill="#ff0000"/>
<rect x="1123" y="462" width="1" height="23" fill="#ff0000"/>
<rect x="1122" y="479" width="3" height="6" fill="#ff0000"/>
<rect x="1127" y="467" width="1" height="35" fill="#00ff00"/>
<rect x="1126" y="479" width="3" height="19" fill="#00ff00"/>
<rect x="1131" y="495" width="1" height="43" fill="#00ff00"/>
<rect x="1130" y="496" width="3" height="28" fill="#00ff00"/>
<rect x="1135" y="508" width="1" height="18" fill="#ff0000"/>
<rect x="1134" y="517" width="3" height="8" fill="#ff0000"/>
<rect x="1139" y="513" width="1" height="7" fill="#ff0000"/>
<rect x="1138" y="514" width="3" height="6" fill="#ff0000"/>
<rect x="1143" y="513" width="1" height="22" fill="#00ff00"/>
<rect x="1142" y="518" width="3" height="14" fill="#00ff00"/>
<rect x="1147" y="516" width="1" height="21" fill="#ff0000"/>
<rect x="1146" y="520" width="3" height="13" fill="#ff0000"/>
<rect x="1151" y="516" width="1" height="20" fill="#00ff00"/>
<rect x="1150" y="518" width="3" height="9" fill="#00ff00"/>
<rect x="1155" y="492" width="1" height="38" fill="#ff0000"/>
<rect x="1154" y="514" width="3" height="9" fill="#ff0000"/>
<rect x="1159" y="506" width="1" height="19" fill="#00ff00"/>
<rect x="1158" y="512" width="3" height="4" fill="#00ff00"/>
<rect x="1163" y="508" width="1" height="11" fill="#ff0000"/>
<rect x="1162" y="510" width="3" height="5" fill="#ff0000"/>
<rect x="1167" y="479" width="1" height="41" fill="#ff0000"/>
<rect x="1166" y="480" width="3" height="38" fill="#ff0000"/>
<rect x="1171" y="461" width="1" height="34" fill="#ff0000"/>
<rect x="1170" y="461" width="3" height="21" fill="#ff0000"/>
<rect x="1175" y="440" width="1" height="27" fill="#ff0000"/>
<rect x="1174" y="445" width="3" height="18" fill="#ff0000"/>
<rect x="1179" y="422" width="1" height="32" fill="#ff0000"/>
<rect x="1178" y="430" width="3" height="17" fill="#ff0000"/>
<rect x="1183" y="414" width="1" height="23" fill="#ff0000"/>
<rect x="1182" y="416" width="3" height="14" fill="#ff0000"/>
<rect x="1187" y="414" width="1" height="5" fill="#00ff00"/>
<rect x="1186" y="416" width="3" height="3" fill="#00ff00"/>
<rect x="1191" y="414" width="1" height="26" fill="#00ff00"/>
<rect x="1190" y="421" width="3" height="19" fill="#00ff00"/>
<rect x="1195" y="438" width="1" height="29" fill="#00ff00"/>
<rect x="1194" y="438" width="3" height="17" fill="#00ff00"/>
<rect x="1199" y="441" width="1" height="40" fill="#00ff00"/>
<rect x="1198" y="454" width="3" height="14" fill="#00ff00"/>
<rect x="1203" y="452" width="1" height="28" fill="#00ff00"/>
<rect x="1202" y="469" width="3" height="4" fill="#00ff00"/>
<rect x="1207" y="453" width="1" height="20" fill="#ff0000"/>
<rect x="1206" y="460" width="3" height="13" fill="#ff0000"/>
<rect x="1211" y="458" width="1" height="5" fill="#ff0000"/>
<rect x="1210" y="459" width="3" height="3" fill="#ff0000"/>
<rect x="1215" y="469" width="1" height="21" fill="#00ff00"/>
<rect x="1214" y="473" width="3" height="12" fill="#00ff00"/>
<rect x="1219" y="481" width="1" height="16" fill="#00ff00"/>
<rect x="1218" y="482" width="3" height="5" fill="#00ff00"/>
<rect x="1223" y="470" width="1" height="20" fill="#ff0000"/>
<rect x="1222" y="478" width="3" height="9" fill="#ff0000"/>
<rect x="1227" y="464" width="1" height="21" fill="#ff0000"/>
<rect x="1226" y="474" width="3" height="4" fill="#ff0000"/>
<rect x="1231" y="473" width="1" height="39" fill="#00ff00"/>
<rect x="1230" y="473" width="3" height="39" fill="#00ff00"/>
<rect x="1235" y="509" width="1" height="6" fill="#00ff00"/>
<rect x="1234" y="512" width="3" height="2" fill="#00ff00"/>
<rect x="1239" y="501" width="1" height="19" fill="#00ff00"/>
<rect x="1238" y="510" width="3" height="5" fill="#00ff00"/>
<rect x="1243" y="488" width="1" height="33" fill="#ff0000"/>
<rect x="1242" y="489" width="3" height="26" fill="#ff0000"/>
<rect x="1247" y="481" width="1" height="26" fill="#00ff00"/>
<rect x="1246" y="489" width="3" height="10" fill="#00ff00"/>
<rect x="1251" y="486" width="1" height="14" fill="#ff0000"/>
<rect x="1250" y="490" width="3" height="10" fill="#ff0000"/>
<rect x="1255" y="481" width="1" height="21" fill="#ff0000"/>
<rect x="1254" y="486" width="3" height="5" fill="#ff0000"/>
<rect x="1259" y="485" width="1" height="3" fill="#00ff00"/>
<rect x="1258" y="486" width="3" height="2" fill="#00ff00"/>
<rect x="1263" y="480" width="1" height="38" fill="#00ff00"/>
<rect x="1262" y="486" width="3" height="31" fill="#00ff00"/>
<rect x="1267" y="509" width="1" height="9" fill="#ff0000"/>
<rect x="1266" y="512" width="3" height="5" fill="#ff0000"/>
<polyline points="3.5,93.4 7.5,94.1 11.5,95.2 15.5,96.0 19.5,96.6 23.5,96.6 27.5,96.7 31.5,96.0 35.5,95.5 39.5,94.5 43.5,94.2 47.5,94.1 51.5,95.1 55.5,96.1 59.5,97.5 63.5,98.7 67.5,99.4 71.5,99.8 75.5,100.2 79.5,100.0 83.5,99.8 87.5,99.7 91.5,100.0 95.5,100.8 99.5,102.2 103.5,103.2 107.5,104.6 111.5,106.2 115.5,107.7 119.5,108.3 123.5,107.6 127.5,105.8 131.5,103.7 135.5,102.0 139.5,100.3 143.5,99.0 147.5,97.9 151.5,97.1 155.5,96.2 159.5,96.7 163.5,97.9 167.5,98.2 171.5,98.0 175.5,97.0 179.5,96.4 183.5,96.1 187.5,97.0 191.5,98.0 195.5,99.3 199.5,101.6 203.5,103.8 207.5,105.5 211.5,108.0 215.5,109.3 219.5,111.0 223.5,112.3 227.5,113.4 231.5,114.3 235.5,115.8 239.5,118.0 243.5,119.6 247.5,122.9 251.5,127.0 255.5,131.7 259.5,136.8 263.5,142.1 267.5,147.1 271.5,151.9 275.5,156.5 279.5,160.6 283.5,163.0 287.5,166.1 291.5,168.6 295.5,171.6 299.5,174.6 303.5,177.5 307.5,180.5 311.5,184.1 315.5,187.9 319.5,190.4 323.5,193.3 327.5,195.7 331.5,197.7 335.5,199.6 339.5,201.1 343.5,203.0 347.5,205.1 351.5,207.2 355.5,208.3 359.5,209.1 363.5,211.3 367.5,213.3 371.5,215.0 375.5,215.4 379.5,215.2 383.5,214.2 387.5,213.3 391.5,212.3 395.5,211.5 399.5,210.0 403.5,209.2 407.5,208.1 411.5,207.2 415.5,205.8 419.5,204.2 423.5,202.3 427.5,200.1 431.5,197.0 435.5,193.9 439.5,192.1 443.5,190.4 447.5,189.1 451.5,187.6 455.5,186.3 459.5,186.2 463.5,186.6 467.5,187.4 471.5,189.1 475.5,192.1 479.5,195.4 483.5,198.4 487.5,202.8 491.5,207.3 495.5,213.4 499.5,219.5 503.5,225.4 507.5,228.8 511.5,232.6 515.5,236.3 519.5,241.3 523.5,243.4 527.5,244.0 531.5,243.0 535.5,242.1 539.5,240.9 543.5,240.8 547.5,240.8 551.5,241.8 555.5,244.8 559.5,248.6 563.5,252.7 567.5,255.5 571.5,257.8 575.5,259.4 579.5,259.0 583.5,257.4 587.5,255.7 591.5,252.8 595.5,250.2 599.5,247.6 603.5,245.0 607.5,240.5 611.5,235.6 615.5,229.5 619.5,224.9 623.5,220.4 627.5,217.9 631.5,215.8 635.5,213.8 639.5,210.4 643.5,209.6 647.5,209.9 651.5,211.8 655.5,213.8 659.5,216.2 663.5,217.3 667.5,218.4 671.5,218.9 675.5,218.4 679.5,217.8 683.5,216.3 687.5,215.6 691.5,214.0 695.5,212.8 699.5,212.5 703.5,213.8 707.5,214.6 711.5,215.4 715.5,215.9 719.5,216.0 723.5,214.8 727.5,213.4 731.5,212.4 735.5,211.6 739.5,209.6 743.5,209.6 747.5,209.5 751.5,208.5 755.5,207.7 759.5,207.1 763.5,207.5 767.5,207.7 771.5,209.3 775.5,211.5 779.5,213.7 783.5,216.2 787.5,218.2 791.5,220.5 795.5,222.3 799.5,221.9 803.5,221.9 807.5,223.2 811.5,227.2 815.5,232.2 819.5,238.4 823.5,241.4 827.5,244.2 831.5,247.9 835.5,251.0 839.5,254.2 843.5,257.9 847.5,261.3 851.5,264.8 855.5,268.7 859.5,273.5 863.5,276.5 867.5,280.1 871.5,284.1 875.5,288.3 879.5,291.6 883.5,295.0 887.5,299.1 891.5,302.2 895.5,304.9 899.5,307.8 903.5,311.1 907.5,314.7 911.5,318.6 915.5,321.4 919.5,325.2 923.5,328.6 927.5,331.3 931.5,333.0 935.5,333.2 939.5,332.3 943.5,334.4 947.5,337.2 951.5,339.0 955.5,341.6 959.5,345.4 963.5,349.8 967.5,354.9 971.5,359.8 975.5,364.3 979.5,368.9 983.5,374.4 987.5,380.6 991.5,386.7 995.5,392.4 999.5,397.6 1003.5,402.9 1007.5,409.6 1011.5,415.5 1015.5,420.7 1019.5,426.0 1023.5,430.3 1027.5,434.5 1031.5,439.1 1035.5,444.1 1039.5,449.2 1043.5,454.6 1047.5,460.5 1051.5,466.4 1055.5,471.9 1059.5,477.8 1063.5,482.1 1067.5,486.5 1071.5,491.2 1075.5,495.4 1079.5,498.7 1083.5,501.6 1087.5,504.6 1091.5,507.5 1095.5,510.7 1099.5,512.3 1103.5,512.9 1107.5,513.1 1111.5,512.5 1115.5,512.8 1119.5,513.4 1123.5,513.2 1127.5,511.9 1131.5,512.3 1135.5,513.2 1139.5,513.8 1143.5,515.3 1147.5,516.6 1151.5,517.2 1155.5,517.2 1159.5,517.1 1163.5,517.0 1167.5,515.2 1171.5,512.2 1175.5,510.2 1179.5,507.2 1183.5,504.5 1187.5,501.7 1191.5,499.4 1195.5,497.3 1199.5,495.6 1203.5,493.9 1207.5,491.1 1211.5,488.4 1215.5,486.0 1219.5,484.7 1223.5,483.7 1227.5,482.4 1231.5,483.2 1235.5,483.6 1239.5,484.6 1243.5,485.0 1247.5,485.0 1251.5,483.9 1255.5,482.8 1259.5,481.9 1263.5,481.4 1267.5,481.1" fill="none" stroke="#0000cd" stroke-width="1" />
<polyline points="3.5,84.1 7.5,87.5 11.5,91.8 15.5,94.9 19.5,97.5 23.5,98.7 27.5,99.8 31.5,99.7 35.5,100.3 39.5,100.1 43.5,101.8 47.5,104.1 51.5,108.5 55.5,112.1 59.5,112.4 63.5,112.1 67.5,109.6 71.5,107.5 75.5,105.5 79.5,103.4 83.5,101.6 87.5,101.7 91.5,101.9 95.5,104.4 99.5,106.2 103.5,106.5 107.5,105.5 111.5,104.7 115.5,103.4 119.5,101.3 123.5,101.5 127.5,100.4 131.5,99.3 135.5,99.1 139.5,98.7 143.5,97.0 147.5,95.4 151.5,91.7 155.5,87.4 159.5,86.3 163.5,87.4 167.5,87.0 171.5,87.6 175.5,88.0 179.5,88.4 183.5,91.1 187.5,95.3 191.5,99.1 195.5,103.3 199.5,109.1 203.5,114.2 207.5,119.8 211.5,127.2 215.5,131.3 219.5,134.2 223.5,136.7 227.5,138.5 231.5,141.7 235.5,145.1 239.5,148.2 243.5,149.9 247.5,153.7 251.5,158.7 255.5,163.7 259.5,169.5 263.5,175.4 267.5,179.1 271.5,182.9 275.5,185.1 279.5,189.8 283.5,193.7 287.5,198.0 291.5,200.7 295.5,202.9 299.5,206.2 303.5,208.0 307.5,209.8 311.5,211.3 315.5,212.7 319.5,212.7 323.5,213.2 327.5,213.6 331.5,215.4 335.5,214.9 339.5,215.9 343.5,215.7 347.5,216.7 351.5,218.1 355.5,217.5 359.5,216.0 363.5,216.0 367.5,216.3 371.5,216.7 375.5,217.2 379.5,216.4 383.5,215.1 387.5,212.5 391.5,210.2 395.5,207.2 399.5,204.9 403.5,202.5 407.5,199.9 411.5,198.3 415.5,195.9 419.5,190.9 423.5,184.6 427.5,178.0 431.5,171.8 435.5,167.3 439.5,165.3 443.5,164.3 447.5,163.8 451.5,164.2 455.5,164.1 459.5,166.7 463.5,169.6 467.5,174.2 471.5,182.1 475.5,191.6 479.5,201.2 483.5,212.3 487.5,228.7 491.5,245.2 495.5,262.7 499.5,278.8 503.5,292.9 507.5,300.9 511.5,309.3 515.5,314.5 519.5,322.2 523.5,322.5 527.5,317.7 531.5,307.3 535.5,296.0 539.5,282.1 543.5,266.0 547.5,249.9 551.5,232.6 555.5,221.4 559.5,215.1 563.5,215.4 567.5,213.0 571.5,210.3 575.5,202.9 579.5,200.0 583.5,198.2 587.5,201.4 591.5,205.0 595.5,211.6 599.5,215.7 603.5,221.2 607.5,226.0 611.5,225.5 615.5,221.8 619.5,219.1 623.5,217.6 627.5,215.3 631.5,215.8 635.5,217.7 639.5,221.5 643.5,223.8 647.5,226.0 651.5,225.0 655.5,223.6 659.5,220.3 663.5,216.2 667.5,213.0 671.5,209.9 675.5,207.6 679.5,209.4 683.5,212.0 687.5,212.5 691.5,210.8 695.5,208.1 699.5,206.1 703.5,206.5 707.5,207.4 711.5,208.5 715.5,211.0 719.5,212.9 723.5,213.5 727.5,214.4 731.5,212.6 735.5,208.7 739.5,204.9 743.5,204.9 747.5,205.6 751.5,206.5 755.5,207.3 759.5,207.1 763.5,208.6 767.5,209.5 771.5,210.9 775.5,214.0 779.5,218.0 783.5,222.0 787.5,225.6 791.5,229.0 795.5,234.8 799.5,235.7 803.5,238.7 807.5,244.1 811.5,252.7 815.5,261.9 819.5,272.2 823.5,278.7 827.5,282.2 831.5,286.3 835.5,290.8 839.5,294.4 843.5,298.4 847.5,301.6 851.5,303.5 855.5,308.9 859.5,315.4 863.5,318.9 867.5,318.8 871.5,317.7 875.5,314.3 879.5,314.7 883.5,317.5 887.5,319.2 891.5,320.6 895.5,322.8 899.5,325.0 903.5,328.9 907.5,332.6 911.5,335.9 915.5,337.4 919.5,340.2 923.5,342.8 927.5,345.3 931.5,348.6 935.5,350.8 939.5,352.2 943.5,354.5 947.5,357.1 951.5,359.4 955.5,363.3 959.5,367.9 963.5,373.7 967.5,379.5 971.5,385.8 975.5,392.6 979.5,401.6 983.5,411.3 987.5,420.7 991.5,432.5 995.5,443.1 999.5,450.1 1003.5,458.3 1007.5,470.4 1011.5,478.8 1015.5,484.0 1019.5,488.2 1023.5,490.5 1027.5,492.6 1031.5,496.1 1035.5,498.7 1039.5,500.5 1043.5,501.4 1047.5,503.3 1051.5,507.3 1055.5,510.1 1059.5,512.7 1063.5,509.9 1067.5,509.3 1071.5,510.4 1075.5,511.9 1079.5,514.4 1083.5,517.5 1087.5,519.9 1091.5,521.6 1095.5,524.4 1099.5,525.2 1103.5,523.5 1107.5,520.7 1111.5,519.5 1115.5,518.1 1119.5,517.2 1123.5,515.5 1127.5,514.8 1131.5,515.2 1135.5,515.1 1139.5,514.3 1143.5,513.5 1147.5,512.2 1151.5,510.1 1155.5,509.2 1159.5,509.7 1163.5,509.6 1167.5,509.0 1171.5,506.0 1175.5,503.3 1179.5,499.8 1183.5,494.0 1187.5,486.4 1191.5,480.9 1195.5,476.6 1199.5,472.1 1203.5,468.7 1207.5,463.9 1211.5,460.0 1215.5,457.8 1219.5,456.1 1223.5,456.0 1227.5,456.8 1231.5,461.6 1235.5,467.6 1239.5,474.7 1243.5,479.7 1247.5,484.0 1251.5,486.5 1255.5,487.7 1259.5,488.8 1263.5,492.8 1267.5,496.6" fill="none" stroke="#ff0000" stroke-width="1" />
<polyline points="3.5,84.8 7.5,97.4 11.5,109.5 15.5,121.8 19.5,128.4 23.5,124.3 27.5,117.3 31.5,107.8 35.5,99.6 39.5,92.5 43.5,90.1 47.5,91.9 51.5,99.8 55.5,109.2 59.5,119.3 63.5,126.3 67.5,125.0 71.5,119.2 75.5,109.9 79.5,99.2 83.5,88.1 87.5,85.5 91.5,83.8 95.5,89.2 99.5,97.7 103.5,105.6 107.5,110.4 111.5,117.1 115.5,116.7 119.5,112.5 123.5,111.0 127.5,104.9 131.5,94.7 135.5,87.2 139.5,80.8 143.5,72.8 147.5,69.8 151.5,68.0 155.5,65.0 159.5,70.9 163.5,83.6 167.5,93.6 171.5,105.0 175.5,114.2 179.5,117.1 183.5,115.3 187.5,117.9 191.5,119.6 195.5,123.5 199.5,130.7 203.5,134.5 207.5,136.6 211.5,143.4 215.5,149.3 219.5,153.9 223.5,156.5 227.5,157.6 231.5,154.9 235.5,155.9 239.5,154.6 243.5,154.9 247.5,162.0 251.5,171.2 255.5,182.6 259.5,194.0 263.5,207.9 267.5,214.7 271.5,217.0 275.5,213.7 279.5,213.5 283.5,208.9 287.5,207.7 291.5,205.6 295.5,204.5 299.5,200.8 303.5,202.0 307.5,204.1 311.5,212.3 315.5,221.6 319.5,226.0 323.5,229.3 327.5,227.8 331.5,225.3 335.5,219.4 339.5,218.0 343.5,214.8 347.5,214.1 351.5,212.0 355.5,208.2 359.5,202.3 363.5,205.0 367.5,211.2 371.5,217.5 375.5,225.2 379.5,230.3 383.5,225.3 387.5,214.6 391.5,201.2 395.5,189.9 399.5,182.7 403.5,178.7 407.5,176.9 411.5,174.9 415.5,170.7 419.5,165.8 423.5,160.9 427.5,156.0 431.5,151.0 435.5,150.1 439.5,153.6 443.5,157.8 447.5,161.7 451.5,168.7 455.5,173.8 459.5,182.4 463.5,191.8 467.5,204.0 471.5,220.9 475.5,242.8 479.5,257.6 483.5,275.6 487.5,303.6 491.5,326.9 495.5,352.7 499.5,375.1 503.5,387.3 507.5,370.9 511.5,353.3 515.5,327.5 519.5,313.5 523.5,286.9 527.5,268.0 531.5,237.2 535.5,205.6 539.5,163.2 543.5,145.2 547.5,136.8 551.5,143.6 555.5,166.2 559.5,199.7 563.5,229.3 567.5,250.0 571.5,265.1 575.5,261.8 579.5,244.7 583.5,219.9 587.5,204.8 591.5,190.6 595.5,187.6 599.5,189.3 603.5,201.3 607.5,212.4 611.5,223.8 615.5,228.2 619.5,238.8 623.5,239.8 627.5,235.2 631.5,234.6 635.5,233.3 639.5,226.7 643.5,222.2 647.5,220.5 651.5,213.4 655.5,205.6 659.5,197.8 663.5,191.2 667.5,187.5 671.5,185.8 675.5,194.2 679.5,209.3 683.5,223.3 687.5,233.0 691.5,235.7 695.5,228.1 699.5,213.1 703.5,205.2 707.5,199.3 711.5,199.3 715.5,205.8 719.5,210.2 723.5,207.0 727.5,205.3 731.5,205.5 735.5,202.9 739.5,200.8 743.5,208.9 747.5,211.2 751.5,211.1 755.5,209.3 759.5,211.4 763.5,209.7 767.5,210.2 771.5,218.2 775.5,229.0 779.5,237.6 783.5,242.9 787.5,250.6 791.5,253.5 795.5,258.8 799.5,258.4 803.5,257.8 807.5,263.0 811.5,275.8 815.5,287.3 819.5,311.7 823.5,322.2 827.5,324.7 831.5,323.1 835.5,318.5 839.5,305.1 843.5,305.7 847.5,308.0 851.5,306.9 855.5,309.0 859.5,316.5 863.5,320.3 867.5,323.9 871.5,327.2 875.5,327.0 879.5,320.4 883.5,320.9 887.5,324.2 891.5,326.6 895.5,328.9 899.5,334.6 903.5,339.9 907.5,344.4 911.5,351.9 915.5,357.5 919.5,362.9 923.5,362.7 927.5,362.6 931.5,362.4 935.5,358.0 939.5,354.4 943.5,357.1 947.5,359.8 951.5,359.1 955.5,369.5 959.5,383.9 963.5,398.1 967.5,414.6 971.5,431.5 975.5,445.0 979.5,457.0 983.5,467.8 987.5,477.7 991.5,488.8 995.5,495.5 999.5,492.8 1003.5,491.5 1007.5,498.2 1011.5,499.1 1015.5,498.6 1019.5,505.0 1023.5,504.9 1027.5,493.8 1031.5,493.4 1035.5,498.1 1039.5,502.1 1043.5,508.2 1047.5,518.7 1051.5,526.8 1055.5,524.9 1059.5,525.8 1063.5,522.0 1067.5,515.8 1071.5,507.5 1075.5,510.1 1079.5,509.5 1083.5,515.0 1087.5,523.2 1091.5,529.2 1095.5,537.0 1099.5,538.6 1103.5,535.6 1107.5,529.0 1111.5,519.2 1115.5,508.2 1119.5,499.5 1123.5,493.5 1127.5,490.9 1131.5,498.0 1135.5,500.9 1139.5,507.0 1143.5,517.6 1147.5,522.1 1151.5,522.6 1155.5,522.1 1159.5,522.5 1163.5,518.1 1167.5,510.0 1171.5,496.9 1175.5,483.1 1179.5,466.0 1183.5,447.0 1187.5,434.8 1191.5,430.4 1195.5,432.3 1199.5,439.9 1203.5,451.4 1207.5,459.7 1211.5,463.6 1215.5,469.7 1219.5,473.4 1223.5,474.4 1227.5,477.1 1231.5,487.7 1235.5,493.6 1239.5,499.1 1243.5,501.3 1247.5,506.4 1251.5,502.0 1255.5,496.2 1259.5,490.8 1263.5,496.4 1267.5,498.9" fill="none" stroke="#ffa500" stroke-width="1" />
</g>
<g clip-path="url(#cr)">
<line x1="3" y1="610.5" x2="1595" y2="610.5" stroke="#c0c0c0" stroke-width="1" stroke-dasharray="3,3"/>
<line x1="3" y1="650.5" x2="1595" y2="650.5" stroke="#c0c0c0" stroke-width="1" stroke-dasharray="3,3"/>
<polyline points="3.5,642.6 7.5,644.4 11.5,644.9 15.5,641.4 19.5,636.1 23.5,632.5 27.5,629.6 31.5,626.0 35.5,625.6 39.5,623.1 43.5,629.4 47.5,634.4 51.5,640.6 55.5,642.4 59.5,641.1 63.5,640.2 67.5,629.1 71.5,628.1 75.5,624.4 79.5,621.3 83.5,620.1 87.5,626.6 91.5,627.2 95.5,636.3 99.5,637.8 103.5,635.1 107.5,634.9 111.5,638.8 115.5,633.9 119.5,628.7 123.5,631.2 127.5,623.3 131.5,620.5 135.5,621.6 139.5,619.3 143.5,618.7 147.5,619.7 151.5,618.5 155.5,617.3 159.5,633.9 163.5,643.2 167.5,638.7 171.5,639.7 175.5,634.1 179.5,635.8 183.5,638.5 187.5,641.3 191.5,640.9 195.5,638.9 199.5,645.2 203.5,641.7 207.5,642.3 211.5,648.0 215.5,643.9 219.5,647.7 223.5,640.4 227.5,638.1 231.5,639.1 235.5,641.7 239.5,642.9 243.5,638.9 247.5,646.3 251.5,649.2 255.5,653.1 259.5,653.8 263.5,654.4 267.5,650.6 271.5,646.4 275.5,643.1 279.5,647.8 283.5,640.3 287.5,642.6 291.5,637.4 295.5,636.7 299.5,638.5 303.5,640.4 307.5,644.3 311.5,648.1 315.5,648.9 319.5,640.9 323.5,641.2 327.5,636.9 331.5,640.3 335.5,635.0 339.5,636.4 343.5,633.1 347.5,633.9 351.5,635.7 355.5,627.1 359.5,625.0 363.5,637.1 367.5,642.0 371.5,643.4 375.5,637.6 379.5,631.5 383.5,627.0 387.5,624.7 391.5,622.7 395.5,621.4 399.5,622.0 403.5,622.0 407.5,623.2 411.5,620.3 415.5,615.9 419.5,615.3 423.5,615.3 427.5,616.9 431.5,613.9 435.5,616.8 439.5,626.7 443.5,628.4 447.5,628.8 451.5,631.5 455.5,629.5 459.5,643.2 463.5,645.5 467.5,649.1 471.5,655.0 475.5,658.0 479.5,658.2 483.5,661.4 487.5,666.9 491.5,667.3 495.5,669.2 499.5,663.1 503.5,654.2 507.5,635.1 511.5,635.2 515.5,633.6 519.5,640.5 523.5,625.9 527.5,621.1 531.5,615.4 535.5,614.4 539.5,613.4 543.5,619.2 547.5,620.4 551.5,623.3 555.5,633.1 559.5,638.1 563.5,639.6 567.5,634.1 571.5,632.6 575.5,629.3 579.5,626.1 583.5,623.2 587.5,624.8 591.5,624.0 595.5,629.1 599.5,628.8 603.5,633.0 607.5,633.9 611.5,633.0 615.5,632.4 619.5,637.2 623.5,633.1 627.5,629.1 631.5,631.8 635.5,630.6 639.5,630.9 643.5,628.9 647.5,627.1 651.5,624.8 655.5,622.8 659.5,623.2 663.5,622.3 667.5,624.3 671.5,623.8 675.5,634.9 679.5,642.0 683.5,639.2 687.5,635.2 691.5,627.1 695.5,624.8 699.5,624.6 703.5,630.7 707.5,629.6 711.5,627.9 715.5,633.0 719.5,630.2 723.5,627.2 727.5,627.8 731.5,628.6 735.5,630.5 739.5,627.9 743.5,637.8 747.5,630.8 751.5,628.6 755.5,628.2 759.5,630.9 763.5,635.7 767.5,631.5 771.5,638.1 775.5,640.5 779.5,640.3 783.5,640.8 787.5,639.6 791.5,640.6 795.5,646.1 799.5,636.3 803.5,636.7 807.5,642.4 811.5,649.7 815.5,652.1 819.5,656.2 823.5,638.9 827.5,635.9 831.5,639.4 835.5,639.8 839.5,637.7 843.5,638.1 847.5,636.5 851.5,637.5 855.5,641.2 859.5,644.2 863.5,639.7 867.5,637.6 871.5,638.4 875.5,638.9 879.5,634.6 883.5,638.9 887.5,640.3 891.5,640.1 895.5,640.4 899.5,641.0 903.5,645.2 907.5,645.7 911.5,648.8 915.5,645.3 919.5,645.6 923.5,640.8 927.5,641.7 931.5,645.4 935.5,633.7 939.5,635.4 943.5,641.1 947.5,641.9 951.5,640.4 955.5,646.7 959.5,651.7 963.5,654.7 967.5,656.7 971.5,656.0 975.5,657.3 979.5,659.7 983.5,661.3 987.5,662.4 991.5,662.8 995.5,656.7 999.5,645.1 1003.5,648.8 1007.5,655.8 1011.5,647.9 1015.5,642.6 1019.5,643.5 1023.5,640.1 1027.5,639.0 1031.5,644.1 1035.5,645.1 1039.5,645.6 1043.5,644.9 1047.5,648.2 1051.5,650.8 1055.5,637.3 1059.5,640.5 1063.5,634.2 1067.5,635.4 1071.5,636.4 1075.5,638.7 1079.5,638.9 1083.5,640.0 1087.5,644.1 1091.5,642.1 1095.5,646.1 1099.5,636.6 1103.5,631.9 1107.5,632.3 1111.5,626.9 1115.5,630.5 1119.5,626.1 1123.5,624.9 1127.5,630.1 1131.5,636.4 1135.5,634.4 1139.5,633.7 1143.5,637.8 1147.5,634.5 1151.5,636.1 1155.5,632.5 1159.5,632.9 1163.5,631.1 1167.5,623.2 1171.5,619.1 1175.5,616.1 1179.5,613.4 1183.5,611.0 1187.5,612.2 1191.5,619.6 1195.5,624.3 1199.5,628.3 1203.5,629.4 1207.5,626.2 1211.5,625.9 1215.5,633.6 1219.5,634.1 1223.5,631.3 1227.5,630.0 1231.5,640.2 1235.5,640.7 1239.5,640.8 1243.5,632.2 1247.5,635.1 1251.5,632.2 1255.5,630.9 1259.5,631.6 1263.5,639.7 1267.5,638.0" fill="none" stroke="#1e90ff" stroke-width="1" />
</g>
<g clip-path="url(#cd)">
<rect x="3" y="712" width="1" height="6" fill="#c0c0c0"/>
<rect x="7" y="717" width="1" height="1" fill="#c0c0c0"/>
<rect x="11" y="718" width="1" height="2" fill="#c0c0c0"/>
<rect x="15" y="718" width="1" height="5" fill="#c0c0c0"/>
<rect x="19" y="718" width="1" height="5" fill="#c0c0c0"/>
<rect x="23" y="718" width="1" height="5" fill="#c0c0c0"/>
<rect x="27" y="718" width="1" height="4" fill="#c0c0c0"/>
<rect x="31" y="718" width="1" height="2" fill="#c0c0c0"/>
<rect x="35" y="718" width="1" height="1" fill="#c0c0c0"/>
<rect x="39" y="716" width="1" height="2" fill="#c0c0c0"/>
<rect x="43" y="716" width="1" height="2" fill="#c0c0c0"/>
<rect x="47" y="717" width="1" height="1" fill="#c0c0c0"/>
<rect x="51" y="718" width="1" height="2" fill="#c0c0c0"/>
<rect x="55" y="718" width="1" height="5" fill="#c0c0c0"/>
<rect x="59" y="718" width="1" height="6" fill="#c0c0c0"/>
<rect x="63" y="718" width="1" height="7" fill="#c0c0c0"/>
<rect x="67" y="718" width="1" height="6" fill="#c0c0c0"/>
<rect x="71" y="718" width="1" height="4" fill="#c0c0c0"/>
<rect x="75" y="718" width="1" height="2" fill="#c0c0c0"/>
<rect x="79" y="717" width="1" height="1" fill="#c0c0c0"/>
<rect x="83" y="715" width="1" height="3" fill="#c0c0c0"/>
<rect x="87" y="714" width="1" height="4" fill="#c0c0c0"/>
<rect x="91" y="714" width="1" height="4" fill="#c0c0c0"/>
<rect x="95" y="716" width="1" height="2" fill="#c0c0c0"/>
<rect x="99" y="718" width="1" height="1" fill="#c0c0c0"/>
<rect x="103" y="718" width="1" height="1" fill="#c0c0c0"/>
<rect x="107" y="718" width="1" height="2" fill="#c0c0c0"/>
<rect x="111" y="718" width="1" height="3" fill="#c0c0c0"/>
<rect x="115" y="718" width="1" height="3" fill="#c0c0c0"/>
<rect x="119" y="718" width="1" height="2" fill="#c0c0c0"/>
<rect x="123" y="718" width="1" height="2" fill="#c0c0c0"/>
<rect x="127" y="718" width="1" height="1" fill="#c0c0c0"/>
<rect x="131" y="715" width="1" height="3" fill="#c0c0c0"/>
<rect x="135" y="713" width="1" height="5" fill="#c0c0c0"/>
<rect x="139" y="711" width="1" height="7" fill="#c0c0c0"/>
<rect x="143" y="709" width="1" height="9" fill="#c0c0c0"/>
<rect x="147" y="708" width="1" height="10" fill="#c0c0c0"/>
<rect x="151" y="707" width="1" height="11" fill="#c0c0c0"/>
<rect x="155" y="706" width="1" height="12" fill="#c0c0c0"/>
<rect x="159" y="709" width="1" height="9" fill="#c0c0c0"/>
<rect x="163" y="714" width="1" height="4" fill="#c0c0c0"/>
<rect x="167" y="717" width="1" height="1" fill="#c0c0c0"/>
<rect x="171" y="718" width="1" height="1" fill="#c0c0c0"/>
<rect x="175" y="718" width="1" height="2" fill="#c0c0c0"/>
<rect x="179" y="718" width="1" height="3" fill="#c0c0c0"/>
<rect x="183" y="718" width="1" height="5" fill="#c0c0c0"/>
<rect x="187" y="718" width="1" height="7" fill="#c0c0c0"/>
<rect x="191" y="718" width="1" height="8" fill="#c0c0c0"/>
<rect x="195" y="718" width="1" height="9" fill="#c0c0c0"/>
<rect x="199" y="718" width="1" height="11" fill="#c0c0c0"/>
<rect x="203" y="718" width="1" height="12" fill="#c0c0c0"/>
<rect x="207" y="718" width="1" height="13" fill="#c0c0c0"/>
<rect x="211" y="718" width="1" height="16" fill="#c0c0c0"/>
<rect x="215" y="718" width="1" height="17" fill="#c0c0c0"/>
<rect x="219" y="718" width="1" height="18" fill="#c0c0c0"/>
<rect x="223" y="718" width="1" height="18" fill="#c0c0c0"/>
<rect x="227" y="718" width="1" height="17" fill="#c0c0c0"/>
<rect x="231" y="718" width="1" height="17" fill="#c0c0c0"/>
<rect x="235" y="718" width="1" height="17" fill="#c0c0c0"/>
<rect x="239" y="718" width="1" height="17" fill="#c0c0c0"/>
<rect x="243" y="718" width="1" height="16" fill="#c0c0c0"/>
<rect x="247" y="718" width="1" height="18" fill="#c0c0c0"/>
<rect x="251" y="718" width="1" height="20" fill="#c0c0c0"/>
<rect x="255" y="718" width="1" height="24" fill="#c0c0c0"/>
<rect x="259" y="718" width="1" height="27" fill="#c0c0c0"/>
<rect x="263" y="718" width="1" height="29" fill="#c0c0c0"/>
<rect x="267" y="718" width="1" height="30" fill="#c0c0c0"/>
<rect x="271" y="718" width="1" height="29" fill="#c0c0c0"/>
<rect x="275" y="718" width="1" height="28" fill="#c0c0c0"/>
<rect x="279" y="718" width="1" height="28" fill="#c0c0c0"/>
<rect x="283" y="718" width="1" height="26" fill="#c0c0c0"/>
<rect x="287" y="718" width="1" height="25" fill="#c0c0c0"/>
<rect x="291" y="718" width="1" height="23" fill="#c0c0c0"/>
<rect x="295" y="718" width="1" height="21" fill="#c0c0c0"/>
<rect x="299" y="718" width="1" height="20" fill="#c0c0c0"/>
<rect x="303" y="718" width="1" height="19" fill="#c0c0c0"/>
<rect x="307" y="718" width="1" height="19" fill="#c0c0c0"/>
<rect x="311" y="718" width="1" height="21" fill="#c0c0c0"/>
<rect x="315" y="718" width="1" height="22" fill="#c0c0c0"/>
<rect x="319" y="718" width="1" height="21" fill="#c0c0c0"/>
<rect x="323" y="718" width="1" height="21" fill="#c0c0c0"/>
<rect x="327" y="718" width="1" height="19" fill="#c0c0c0"/>
<rect x="331" y="718" width="1" height="18" fill="#c0c0c0"/>
<rect x="335" y="718" width="1" height="16" fill="#c0c0c0"/>
<rect x="339" y="718" width="1" height="15" fill="#c0c0c0"/>
<rect x="343" y="718" width="1" height="13" fill="#c0c0c0"/>
<rect x="347" y="718" width="1" height="12" fill="#c0c0c0"/>
<rect x="351" y="718" width="1" height="11" fill="#c0c0c0"/>
<rect x="355" y="718" width="1" height="8" fill="#c0c0c0"/>
<rect x="359" y="718" width="1" height="5" fill="#c0c0c0"/>
<rect x="363" y="718" width="1" height="6" fill="#c0c0c0"/>
<rect x="367" y="718" width="1" height="9" fill="#c0c0c0"/>
<rect x="371" y="718" width="1" height="11" fill="#c0c0c0"/>
<rect x="375" y="718" width="1" height="11" fill="#c0c0c0"/>
<rect x="379" y="718" width="1" height="9" fill="#c0c0c0"/>
<rect x="383" y="718" width="1" height="7" fill="#c0c0c0"/>
<rect x="387" y="718" width="1" height="4" fill="#c0c0c0"/>
<rect x="391" y="718" width="1" height="1" fill="#c0c0c0"/>
<rect x="395" y="715" width="1" height="3" fill="#c0c0c0"/>
<rect x="399" y="713" width="1" height="5" fill="#c0c0c0"/>
<rect x="403" y="712" width="1" height="6" fill="#c0c0c0"/>
<rect x="407" y="711" width="1" height="7" fill="#c0c0c0"/>
<rect x="411" y="709" width="1" height="9" fill="#c0c0c0"/>
<rect x="415" y="707" width="1" height="11" fill="#c0c0c0"/>
<rect x="419" y="705" width="1" height="13" fill="#c0c0c0"/>
<rect x="423" y="703" width="1" height="15" fill="#c0c0c0"/>
<rect x="427" y="703" width="1" height="15" fill="#c0c0c0"/>
<rect x="431" y="701" width="1" height="17" fill="#c0c0c0"/>
<rect x="435" y="701" width="1" height="17" fill="#c0c0c0"/>
<rect x="439" y="703" width="1" height="15" fill="#c0c0c0"/>
<rect x="443" y="704" width="1" height="14" fill="#c0c0c0"/>
<rect x="447" y="706" width="1" height="12" fill="#c0c0c0"/>
<rect x="451" y="708" width="1" height="10" fill="#c0c0c0"/>
<rect x="455" y="709" width="1" height="9" fill="#c0c0c0"/>
<rect x="459" y="714" width="1" height="4" fill="#c0c0c0"/>
<rect x="463" y="718" width="1" height="1" fill="#c0c0c0"/>
<rect x="467" y="718" width="1" height="4" fill="#c0c0c0"/>
<rect x="471" y="718" width="1" height="11" fill="#c0c0c0"/>
<rect x="475" y="718" width="1" height="17" fill="#c0c0c0"/>
<rect x="479" y="718" width="1" height="22" fill="#c0c0c0"/>
<rect x="483" y="718" width="1" height="28" fill="#c0c0c0"/>
<rect x="487" y="718" width="1" height="38" fill="#c0c0c0"/>
<rect x="491" y="718" width="1" height="46" fill="#c0c0c0"/>
<rect x="495" y="718" width="1" height="55" fill="#c0c0c0"/>
<rect x="499" y="718" width="1" height="60" fill="#c0c0c0"/>
<rect x="503" y="718" width="1" height="60" fill="#c0c0c0"/>
<rect x="507" y="718" width="1" height="53" fill="#c0c0c0"/>
<rect x="511" y="718" width="1" height="47" fill="#c0c0c0"/>
<rect x="515" y="718" width="1" height="41" fill="#c0c0c0"/>
<rect x="519" y="718" width="1" height="39" fill="#c0c0c0"/>
<rect x="523" y="718" width="1" height="30" fill="#c0c0c0"/>
<rect x="527" y="718" width="1" height="18" fill="#c0c0c0"/>
<rect x="531" y="718" width="1" height="4" fill="#c0c0c0"/>
<rect x="535" y="709" width="1" height="9" fill="#c0c0c0"/>
<rect x="539" y="699" width="1" height="19" fill="#c0c0c0"/>
<rect x="543" y="693" width="1" height="25" fill="#c0c0c0"/>
<rect x="547" y="690" width="1" height="28" fill="#c0c0c0"/>
<rect x="551" y="690" width="1" height="28" fill="#c0c0c0"/>
<rect x="555" y="695" width="1" height="23" fill="#c0c0c0"/>
<rect x="559" y="704" width="1" height="14" fill="#c0c0c0"/>
<rect x="563" y="712" width="1" height="6" fill="#c0c0c0"/>
<rect x="567" y="716" width="1" height="2" fill="#c0c0c0"/>
<rect x="571" y="717" width="1" height="1" fill="#c0c0c0"/>
<rect x="575" y="716" width="1" height="2" fill="#c0c0c0"/>
<rect x="579" y="713" width="1" height="5" fill="#c0c0c0"/>
<rect x="583" y="708" width="1" height="10" fill="#c0c0c0"/>
<rect x="587" y="706" width="1" height="12" fill="#c0c0c0"/>
<rect x="591" y="703" width="1" height="15" fill="#c0c0c0"/>
<rect x="595" y="704" width="1" height="14" fill="#c0c0c0"/>
<rect x="599" y="705" width="1" height="13" fill="#c0c0c0"/>
<rect x="603" y="708" width="1" height="10" fill="#c0c0c0"/>
<rect x="607" y="711" width="1" height="7" fill="#c0c0c0"/>
<rect x="611" y="714" width="1" height="4" fill="#c0c0c0"/>
<rect x="615" y="715" width="1" height="3" fill="#c0c0c0"/>
<rect x="619" y="718" width="1" height="1" fill="#c0c0c0"/>
<rect x="623" y="718" width="1" height="2" fill="#c0c0c0"/>
<rect x="627" y="718" width="1" height="1" fill="#c0c0c0"/>
<rect x="631" y="718" width="1" height="1" fill="#c0c0c0"/>
<rect x="635" y="718" width="1" height="1" fill="#c0c0c0"/>
<rect x="639" y="718" width="1" height="1" fill="#c0c0c0"/>
<rect x="643" y="717" width="1" height="1" fill="#c0c0c0"/>
<rect x="647" y="716" width="1" height="2" fill="#c0c0c0"/>
<rect x="651" y="714" width="1" height="4" fill="#c0c0c0"/>
<rect x="655" y="711" width="1" height="7" fill="#c0c0c0"/>
<rect x="659" y="709" width="1" height="9" fill="#c0c0c0"/>
<rect x="663" y="707" width="1" height="11" fill="#c0c0c0"/>
<rect x="667" y="707" width="1" height="11" fill="#c0c0c0"/>
<rect x="671" y="706" width="1" height="12" fill="#c0c0c0"/>
<rect x="675" y="709" width="1" height="9" fill="#c0c0c0"/>
<rect x="679" y="715" width="1" height="3" fill="#c0c0c0"/>
<rect x="683" y="718" width="1" height="1" fill="#c0c0c0"/>
<rect x="687" y="718" width="1" height="3" fill="#c0c0c0"/>
<rect x="691" y="718" width="1" height="1" fill="#c0c0c0"/>
<rect x="695" y="716" width="1" height="2" fill="#c0c0c0"/>
<rect x="699" y="714" width="1" height="4" fill="#c0c0c0"/>
<rect x="703" y="714" width="1" height="4" fill="#c0c0c0"/>
<rect x="707" y="714" width="1" height="4" fill="#c0c0c0"/>
<rect x="711" y="714" width="1" height="4" fill="#c0c0c0"/>
<rect x="715" y="715" width="1" height="3" fill="#c0c0c0"/>
<rect x="719" y="715" width="1" height="3" fill="#c0c0c0"/>
<rect x="723" y="714" width="1" height="4" fill="#c0c0c0"/>
<rect x="727" y="714" width="1" height="4" fill="#c0c0c0"/>
<rect x="731" y="713" width="1" height="5" fill="#c0c0c0"/>
<rect x="735" y="714" width="1" height="4" fill="#c0c0c0"/>
<rect x="739" y="714" width="1" height="4" fill="#c0c0c0"/>
<rect x="743" y="717" width="1" height="1" fill="#c0c0c0"/>
<rect x="747" y="717" width="1" height="1" fill="#c0c0c0"/>
<rect x="751" y="716" width="1" height="2" fill="#c0c0c0"/>
<rect x="755" y="715" width="1" height="3" fill="#c0c0c0"/>
<rect x="759" y="716" width="1" height="2" fill="#c0c0c0"/>
<rect x="763" y="718" width="1" height="1" fill="#c0c0c0"/>
<rect x="767" y="718" width="1" height="1" fill="#c0c0c0"/>
<rect x="771" y="718" width="1" height="3" fill="#c0c0c0"/>
<rect x="775" y="718" width="1" height="6" fill="#c0c0c0"/>
<rect x="779" y="718" width="1" height="8" fill="#c0c0c0"/>
<rect x="783" y="718" width="1" height="10" fill="#c0c0c0"/>
<rect x="787" y="718" width="1" height="11" fill="#c0c0c0"/>
<rect x="791" y="718" width="1" height="12" fill="#c0c0c0"/>
<rect x="795" y="718" width="1" height="15" fill="#c0c0c0"/>
<rect x="799" y="718" width="1" height="15" fill="#c0c0c0"/>
<rect x="803" y="718" width="1" height="14" fill="#c0c0c0"/>
<rect x="807" y="718" width="1" height="16" fill="#c0c0c0"/>
<rect x="811" y="718" width="1" height="21" fill="#c0c0c0"/>
<rect x="815" y="718" width="1" height="26" fill="#c0c0c0"/>
<rect x="819" y="718" width="1" height="33" fill="#c0c0c0"/>
<rect x="823" y="718" width="1" height="32" fill="#c0c0c0"/>
<rect x="827" y="718" width="1" height="30" fill="#c0c0c0"/>
<rect x="831" y="718" width="1" height="29" fill="#c0c0c0"/>
<rect x="835" y="718" width="1" height="29" fill="#c0c0c0"/>
<rect x="839" y="718" width="1" height="28" fill="#c0c0c0"/>
<rect x="843" y="718" width="1" height="26" fill="#c0c0c0"/>
<rect x="847" y="718" width="1" height="25" fill="#c0c0c0"/>
<rect x="851" y="718" width="1" height="23" fill="#c0c0c0"/>
<rect x="855" y="718" width="1" height="24" fill="#c0c0c0"/>
<rect x="859" y="718" width="1" height="25" fill="#c0c0c0"/>
<rect x="863" y="718" width="1" height="25" fill="#c0c0c0"/>
<rect x="867" y="718" width="1" height="24" fill="#c0c0c0"/>
<rect x="871" y="718" width="1" height="23" fill="#c0c0c0"/>
<rect x="875" y="718" width="1" height="22" fill="#c0c0c0"/>
<rect x="879" y="718" width="1" height="20" fill="#c0c0c0"/>
<rect x="883" y="718" width="1" height="19" fill="#c0c0c0"/>
<rect x="887" y="718" width="1" height="19" fill="#c0c0c0"/>
<rect x="891" y="718" width="1" height="19" fill="#c0c0c0"/>
<rect x="895" y="718" width="1" height="19" fill="#c0c0c0"/>
<rect x="899" y="718" width="1" height="19" fill="#c0c0c0"/>
<rect x="903" y="718" width="1" height="20" fill="#c0c0c0"/>
<rect x="907" y="718" width="1" height="21" fill="#c0c0c0"/>
<rect x="911" y="718" width="1" height="23" fill="#c0c0c0"/>
<rect x="915" y="718" width="1" height="23" fill="#c0c0c0"/>
<rect x="919" y="718" width="1" height="23" fill="#c0c0c0"/>
<rect x="923" y="718" width="1" height="22" fill="#c0c0c0"/>
<rect x="927" y="718" width="1" height="21" fill="#c0c0c0"/>
<rect x="931" y="718" width="1" height="22" fill="#c0c0c0"/>
<rect x="935" y="718" width="1" height="19" fill="#c0c0c0"/>
<rect x="939" y="718" width="1" height="17" fill="#c0c0c0"/>
<rect x="943" y="718" width="1" height="17" fill="#c0c0c0"/>
<rect x="947" y="718" width="1" height="18" fill="#c0c0c0"/>
<rect x="951" y="718" width="1" height="17" fill="#c0c0c0"/>
<rect x="955" y="718" width="1" height="19" fill="#c0c0c0"/>
<rect x="959" y="718" width="1" height="23" fill="#c0c0c0"/>
<rect x="963" y="718" width="1" height="27" fill="#c0c0c0"/>
<rect x="967" y="718" width="1" height="31" fill="#c0c0c0"/>
<rect x="971" y="718" width="1" height="34" fill="#c0c0c0"/>
<rect x="975" y="718" width="1" height="37" fill="#c0c0c0"/>
<rect x="979" y="718" width="1" height="40" fill="#c0c0c0"/>
<rect x="983" y="718" width="1" height="44" fill="#c0c0c0"/>
<rect x="987" y="718" width="1" height="47" fill="#c0c0c0"/>
<rect x="991" y="718" width="1" height="49" fill="#c0c0c0"/>
<rect x="995" y="718" width="1" height="49" fill="#c0c0c0"/>
<rect x="999" y="718" width="1" height="46" fill="#c0c0c0"/>
<rect x="1003" y="718" width="1" height="45" fill="#c0c0c0"/>
<rect x="1007" y="718" width="1" height="48" fill="#c0c0c0"/>
<rect x="1011" y="718" width="1" height="48" fill="#c0c0c0"/>
<rect x="1015" y="718" width="1" height="45" fill="#c0c0c0"/>
<rect x="1019" y="718" width="1" height="43" fill="#c0c0c0"/>
<rect x="1023" y="718" width="1" height="40" fill="#c0c0c0"/>
<rect x="1027" y="718" width="1" height="37" fill="#c0c0c0"/>
<rect x="1031" y="718" width="1" height="36" fill="#c0c0c0"/>
<rect x="1035" y="718" width="1" height="36" fill="#c0c0c0"/>
<rect x="1039" y="718" width="1" height="36" fill="#c0c0c0"/>
<rect x="1043" y="718" width="1" height="35" fill="#c0c0c0"/>
<rect x="1047" y="718" width="1" height="35" fill="#c0c0c0"/>
<rect x="1051" y="718" width="1" height="37" fill="#c0c0c0"/>
<rect x="1055" y="718" width="1" height="33" fill="#c0c0c0"/>
<rect x="1059" y="718" width="1" height="32" fill="#c0c0c0"/>
<rect x="1063" y="718" width="1" height="28" fill="#c0c0c0"/>
<rect x="1067" y="718" width="1" height="25" fill="#c0c0c0"/>
<rect x="1071" y="718" width="1" height="23" fill="#c0c0c0"/>
<rect x="1075" y="718" width="1" height="23" fill="#c0c0c0"/>
<rect x="1079" y="718" width="1" height="22" fill="#c0c0c0"/>
<rect x="1083" y="718" width="1" height="21" fill="#c0c0c0"/>
<rect x="1087" y="718" width="1" height="22" fill="#c0c0c0"/>
<rect x="1091" y="718" width="1" height="22" fill="#c0c0c0"/>
<rect x="1095" y="718" width="1" height="24" fill="#c0c0c0"/>
<rect x="1099" y="718" width="1" height="22" fill="#c0c0c0"/>
<rect x="1103" y="718" width="1" height="19" fill="#c0c0c0"/>
<rect x="1107" y="718" width="1" height="16" fill="#c0c0c0"/>
<rect x="1111" y="718" width="1" height="12" fill="#c0c0c0"/>
<rect x="1115" y="718" width="1" height="10" fill="#c0c0c0"/>
<rect x="1119" y="718" width="1" height="7" fill="#c0c0c0"/>
<rect x="1123" y="718" width="1" height="3" fill="#c0c0c0"/>
<rect x="1127" y="718" width="1" height="2" fill="#c0c0c0"/>
<rect x="1131" y="718" width="1" height="4" fill="#c0c0c0"/>
<rect x="1135" y="718" width="1" height="5" fill="#c0c0c0"/>
<rect x="1139" y="718" width="1" height="5" fill="#c0c0c0"/>
<rect x="1143" y="718" width="1" height="6" fill="#c0c0c0"/>
<rect x="1147" y="718" width="1" height="7" fill="#c0c0c0"/>
<rect x="1151" y="718" width="1" height="7" fill="#c0c0c0"/>
<rect x="1155" y="718" width="1" height="6" fill="#c0c0c0"/>
<rect x="1159" y="718" width="1" height="6" fill="#c0c0c0"/>
<rect x="1163" y="718" width="1" height="5" fill="#c0c0c0"/>
<rect x="1167" y="718" width="1" height="2" fill="#c0c0c0"/>
<rect x="1171" y="715" width="1" height="3" fill="#c0c0c0"/>
<rect x="1175" y="710" width="1" height="8" fill="#c0c0c0"/>
<rect x="1179" y="705" width="1" height="13" fill="#c0c0c0"/>
<rect x="1183" y="700" width="1" height="18" fill="#c0c0c0"/>
<rect x="1187" y="696" width="1" height="22" fill="#c0c0c0"/>
<rect x="1191" y="696" width="1" height="22" fill="#c0c0c0"/>
<rect x="1195" y="697" width="1" height="21" fill="#c0c0c0"/>
<rect x="1199" y="699" width="1" height="19" fill="#c0c0c0"/>
<rect x="1203" y="702" width="1" height="16" fill="#c0c0c0"/>
<rect x="1207" y="703" width="1" height="15" fill="#c0c0c0"/>
<rect x="1211" y="703" width="1" height="15" fill="#c0c0c0"/>
<rect x="1215" y="706" width="1" height="12" fill="#c0c0c0"/>
<rect x="1219" y="709" width="1" height="9" fill="#c0c0c0"/>
<rect x="1223" y="711" width="1" height="7" fill="#c0c0c0"/>
<rect x="1227" y="712" width="1" height="6" fill="#c0c0c0"/>
<rect x="1231" y="716" width="1" height="2" fill="#c0c0c0"/>
<rect x="1235" y="718" width="1" height="1" fill="#c0c0c0"/>
<rect x="1239" y="718" width="1" height="4" fill="#c0c0c0"/>
<rect x="1243" y="718" width="1" height="4" fill="#c0c0c0"/>
<rect x="1247" y="718" width="1" height="4" fill="#c0c0c0"/>
<rect x="1251" y="718" width="1" height="4" fill="#c0c0c0"/>
<rect x="1255" y="718" width="1" height="3" fill="#c0c0c0"/>
<rect x="1259" y="718" width="1" height="3" fill="#c0c0c0"/>
<rect x="1263" y="718" width="1" height="5" fill="#c0c0c0"/>
<rect x="1267" y="718" width="1" height="7" fill="#c0c0c0"/>
<polyline points="3.5,708.0 7.5,709.2 11.5,710.7 15.5,712.4 19.5,714.1 23.5,715.9 27.5,717.6 31.5,719.1 35.5,720.3 39.5,720.8 43.5,720.7 47.5,720.4 51.5,720.1 55.5,720.0 59.5,720.2 63.5,720.6 67.5,721.0 71.5,721.5 75.5,721.8 79.5,721.9 83.5,721.6 87.5,720.9 91.5,719.9 95.5,719.0 99.5,718.1 103.5,717.6 107.5,717.3 111.5,717.4 115.5,717.9 119.5,718.6 123.5,719.2 127.5,719.7 131.5,719.6 135.5,719.0 139.5,718.1 143.5,717.0 147.5,715.5 151.5,713.9 155.5,712.3 159.5,711.1 163.5,710.6 167.5,710.8 171.5,711.5 175.5,712.5 179.5,713.8 183.5,715.4 187.5,717.4 191.5,719.6 195.5,721.6 199.5,723.4 203.5,724.9 207.5,726.2 211.5,727.7 215.5,729.2 219.5,730.8 223.5,732.0 227.5,733.1 231.5,734.0 235.5,734.6 239.5,735.2 243.5,735.5 247.5,735.8 251.5,736.3 255.5,736.9 259.5,737.8 263.5,739.1 267.5,740.5 271.5,741.8 275.5,743.0 279.5,744.3 283.5,745.1 287.5,745.7 291.5,745.6 295.5,744.9 299.5,743.9 303.5,742.7 307.5,741.6 311.5,740.9 315.5,740.3 319.5,739.8 323.5,739.3 327.5,738.8 331.5,738.5 335.5,738.1 339.5,737.7 343.5,737.0 347.5,736.0 351.5,734.7 355.5,733.3 359.5,731.6 363.5,730.2 367.5,729.1 371.5,728.5 375.5,728.0 379.5,727.6 383.5,727.0 387.5,726.2 391.5,725.4 395.5,724.5 399.5,723.3 403.5,721.6 407.5,719.6 411.5,717.4 415.5,715.2 419.5,713.0 423.5,710.9 427.5,709.2 431.5,707.6 435.5,706.2 439.5,705.2 443.5,704.5 447.5,704.2 451.5,704.3 455.5,704.8 459.5,706.0 463.5,707.7 467.5,710.0 471.5,713.1 475.5,716.7 479.5,720.7 483.5,725.2 487.5,730.5 491.5,736.6 495.5,743.2 499.5,749.8 503.5,756.0 507.5,760.7 511.5,764.0 515.5,766.1 519.5,767.3 523.5,766.4 527.5,763.3 531.5,757.6 535.5,750.0 539.5,741.1 543.5,732.5 547.5,724.2 551.5,716.5 555.5,709.7 559.5,704.8 563.5,702.2 567.5,701.5 571.5,702.4 575.5,704.3 579.5,706.4 583.5,708.4 587.5,710.2 591.5,711.1 595.5,711.1 599.5,710.3 603.5,709.5 607.5,708.9 611.5,708.6 615.5,708.9 619.5,710.0 623.5,711.5 627.5,713.2 631.5,714.8 635.5,716.3 639.5,717.4 643.5,718.0 647.5,718.3 651.5,718.1 655.5,717.2 659.5,716.1 663.5,714.9 667.5,713.5 671.5,712.2 675.5,711.2 679.5,711.0 683.5,711.3 687.5,712.1 691.5,712.9 695.5,713.7 699.5,714.4 703.5,715.2 707.5,716.1 711.5,716.5 715.5,716.5 719.5,716.1 723.5,715.4 727.5,714.8 731.5,714.6 735.5,714.6 739.5,714.6 743.5,714.9 747.5,715.2 751.5,715.4 755.5,715.4 759.5,715.6 763.5,716.1 767.5,716.6 771.5,717.3 775.5,718.5 779.5,719.5 783.5,720.8 787.5,722.2 791.5,723.9 795.5,725.8 799.5,727.4 803.5,729.0 807.5,730.5 811.5,732.2 815.5,734.2 819.5,736.7 823.5,739.1 827.5,741.0 831.5,742.6 835.5,744.2 839.5,745.6 843.5,746.8 847.5,747.2 851.5,746.9 855.5,745.8 859.5,745.0 863.5,744.5 867.5,743.9 871.5,743.2 875.5,742.5 879.5,741.7 883.5,741.2 887.5,740.7 891.5,740.2 895.5,739.5 899.5,738.9 903.5,738.5 907.5,738.3 911.5,738.4 915.5,738.8 919.5,739.2 923.5,739.5 927.5,739.7 931.5,740.0 935.5,740.0 939.5,739.7 943.5,739.3 947.5,738.7 951.5,738.1 955.5,737.6 959.5,737.7 963.5,738.4 967.5,739.5 971.5,741.2 975.5,743.4 979.5,746.0 983.5,748.9 987.5,752.2 991.5,755.5 995.5,758.4 999.5,760.5 1003.5,762.0 1007.5,763.6 1011.5,764.7 1015.5,765.3 1019.5,765.2 1023.5,764.4 1027.5,763.0 1031.5,761.6 1035.5,760.5 1039.5,759.4 1043.5,757.9 1047.5,756.5 1051.5,755.6 1055.5,754.5 1059.5,753.6 1063.5,752.6 1067.5,751.4 1071.5,750.0 1075.5,748.6 1079.5,747.2 1083.5,745.6 1087.5,744.0 1091.5,742.8 1095.5,742.0 1099.5,741.3 1103.5,740.6 1107.5,739.8 1111.5,738.7 1115.5,737.4 1119.5,735.8 1123.5,733.6 1127.5,731.4 1131.5,729.2 1135.5,727.2 1139.5,725.6 1143.5,724.5 1147.5,723.9 1151.5,723.5 1155.5,723.5 1159.5,723.8 1163.5,724.2 1167.5,723.9 1171.5,723.1 1175.5,721.7 1179.5,719.5 1183.5,716.8 1187.5,713.6 1191.5,710.4 1195.5,707.4 1199.5,704.7 1203.5,702.7 1207.5,701.3 1211.5,700.6 1215.5,700.7 1219.5,701.8 1223.5,703.3 1227.5,705.1 1231.5,707.2 1235.5,709.4 1239.5,711.7 1243.5,713.8 1247.5,716.0 1251.5,717.7 1255.5,719.0 1259.5,720.2 1263.5,721.5 1267.5,722.5" fill="none" stroke="#ff0000" stroke-width="1" stroke-dasharray="3,3"/>
</g>
<rect x="2" y="21" width="1594" height="1" fill="#000"/>
<rect x="2" y="577" width="1594" height="1" fill="#000"/>
<rect x="2" y="21" width="1" height="557" fill="#000"/>
<rect x="1595" y="21" width="1" height="557" fill="#000"/>
<rect x="2" y="579" width="1594" height="1" fill="#000"/>
<rect x="2" y="681" width="1594" height="1" fill="#000"/>
<rect x="2" y="579" width="1" height="103" fill="#000"/>
<rect x="1595" y="579" width="1" height="103" fill="#000"/>
<rect x="2" y="683" width="1594" height="1" fill="#000"/>
<rect x="2" y="784" width="1594" height="1" fill="#000"/>
<rect x="2" y="683" width="1" height="102" fill="#000"/>
<rect x="1595" y="683" width="1" height="102" fill="#000"/>
<rect x="1596" y="46" width="2" height="1" fill="#000"/>
<rect x="1596" y="79" width="2" height="1" fill="#000"/>
<rect x="1596" y="112" width="2" height="1" fill="#000"/>
<rect x="1596" y="145" width="2" height="1" fill="#000"/>
<rect x="1596" y="178" width="2" height="1" fill="#000"/>
<rect x="1596" y="211" width="2" height="1" fill="#000"/>
<rect x="1596" y="244" width="2" height="1" fill="#000"/>
<rect x="1596" y="277" width="2" height="1" fill="#000"/>
<rect x="1596" y="310" width="2" height="1" fill="#000"/>
<rect x="1596" y="343" width="2" height="1" fill="#000"/>
<rect x="1596" y="376" width="2" height="1" fill="#000"/>
<rect x="1596" y="409" width="2" height="1" fill="#000"/>
<rect x="1596" y="442" width="2" height="1" fill="#000"/>
<rect x="1596" y="475" width="2" height="1" fill="#000"/>
<rect x="1596" y="508" width="2" height="1" fill="#000"/>
<rect x="1596" y="541" width="2" height="1" fill="#000"/>
<rect x="1596" y="574" width="2" height="1" fill="#000"/>
<rect x="1596" y="581" width="2" height="1" fill="#000"/>
<rect x="1596" y="611" width="2" height="1" fill="#000"/>
<rect x="1596" y="651" width="2" height="1" fill="#000"/>
<rect x="1596" y="680" width="2" height="1" fill="#000"/>
<rect x="1596" y="685" width="2" height="1" fill="#000"/>
<rect x="1596" y="718" width="2" height="1" fill="#000"/>
<rect x="3" y="785" width="1" height="3" fill="#000"/>
<rect x="67" y="785" width="1" height="3" fill="#000"/>
<rect x="131" y="785" width="1" height="3" fill="#000"/>
<rect x="195" y="785" width="1" height="3" fill="#000"/>
<rect x="259" y="785" width="1" height="3" fill="#000"/>
<rect x="323" y="785" width="1" height="3" fill="#000"/>
<rect x="387" y="785" width="1" height="3" fill="#000"/>
<rect x="451" y="785" width="1" height="3" fill="#000"/>
<rect x="515" y="785" width="1" height="3" fill="#000"/>
<rect x="579" y="785" width="1" height="3" fill="#000"/>
<rect x="643" y="785" width="1" height="3" fill="#000"/>
<rect x="707" y="785" width="1" height="3" fill="#000"/>
<rect x="771" y="785" width="1" height="3" fill="#000"/>
<rect x="835" y="785" width="1" height="3" fill="#000"/>
<rect x="899" y="785" width="1" height="3" fill="#000"/>
<rect x="963" y="785" width="1" height="3" fill="#000"/>
<rect x="1027" y="785" width="1" height="3" fill="#000"/>
<rect x="1091" y="785" width="1" height="3" fill="#000"/>
<rect x="1155" y="785" width="1" height="3" fill="#000"/>
<rect x="1219" y="785" width="1" height="3" fill="#000"/>
</svg>
<div class="t" style="left:1601px;top:41.5px;font-size:9.5px;color:#000;letter-spacing:-0.27px">1.00265</div><div class="t" style="left:1601px;top:74.5px;font-size:9.5px;color:#000;letter-spacing:-0.27px">0.99620</div><div class="t" style="left:1601px;top:107.5px;font-size:9.5px;color:#000;letter-spacing:-0.27px">0.98960</div><div class="t" style="left:1601px;top:140.5px;font-size:9.5px;color:#000;letter-spacing:-0.27px">0.98300</div><div class="t" style="left:1601px;top:173.5px;font-size:9.5px;color:#000;letter-spacing:-0.27px">0.97640</div><div class="t" style="left:1601px;top:206.5px;font-size:9.5px;color:#000;letter-spacing:-0.27px">0.96995</div><div class="t" style="left:1601px;top:239.5px;font-size:9.5px;color:#000;letter-spacing:-0.27px">0.96335</div><div class="t" style="left:1601px;top:272.5px;font-size:9.5px;color:#000;letter-spacing:-0.27px">0.95675</div><div class="t" style="left:1601px;top:305.5px;font-size:9.5px;color:#000;letter-spacing:-0.27px">0.95015</div><div class="t" style="left:1601px;top:338.5px;font-size:9.5px;color:#000;letter-spacing:-0.27px">0.94355</div><div class="t" style="left:1601px;top:371.5px;font-size:9.5px;color:#000;letter-spacing:-0.27px">0.93710</div><div class="t" style="left:1601px;top:404.5px;font-size:9.5px;color:#000;letter-spacing:-0.27px">0.93050</div><div class="t" style="left:1601px;top:437.5px;font-size:9.5px;color:#000;letter-spacing:-0.27px">0.92390</div><div class="t" style="left:1601px;top:470.5px;font-size:9.5px;color:#000;letter-spacing:-0.27px">0.91730</div><div class="t" style="left:1601px;top:503.5px;font-size:9.5px;color:#000;letter-spacing:-0.27px">0.91085</div><div class="t" style="left:1601px;top:536.5px;font-size:9.5px;color:#000;letter-spacing:-0.27px">0.90425</div><div class="t" style="left:1601px;top:569.5px;font-size:9.5px;color:#000;letter-spacing:-0.27px">0.89765</div><div style="position:absolute;left:1597px;top:267px;width:40px;height:11px;background:#ff0000"></div><div class="t" style="left:1601px;top:267.5px;font-size:9.5px;color:#fff;letter-spacing:-0.27px">0.95756</div><div style="position:absolute;left:1597px;top:335px;width:40px;height:11px;background:#ff0000"></div><div class="t" style="left:1601px;top:335.5px;font-size:9.5px;color:#fff;letter-spacing:-0.27px">0.94406</div><div style="position:absolute;left:1597px;top:405px;width:40px;height:11px;background:#ff0000"></div><div class="t" style="left:1601px;top:405.5px;font-size:9.5px;color:#fff;letter-spacing:-0.27px">0.93016</div><div style="position:absolute;left:1597px;top:471px;width:40px;height:11px;background:#00ff00"></div><div class="t" style="left:1601px;top:471.5px;font-size:9.5px;color:#fff;letter-spacing:-0.27px">0.91706</div><div style="position:absolute;left:1597px;top:507px;width:40px;height:11px;background:#000000"></div><div class="t" style="left:1601px;top:507.5px;font-size:9.5px;color:#fff;letter-spacing:-0.27px">0.91003</div><div style="position:absolute;left:1597px;top:556px;width:40px;height:11px;background:#0000ff"></div><div class="t" style="left:1601px;top:556.5px;font-size:9.5px;color:#fff;letter-spacing:-0.27px">0.90018</div><div class="t" style="left:1599px;top:582px;font-size:9.5px;color:#000;letter-spacing:-0.3px">100</div><div class="t" style="left:1599px;top:606px;font-size:9.5px;color:#000;letter-spacing:-0.3px">70</div><div class="t" style="left:1599px;top:646px;font-size:9.5px;color:#000;letter-spacing:-0.3px">30</div><div class="t" style="left:1599px;top:670px;font-size:9.5px;color:#000;letter-spacing:-0.3px">0</div><div class="t" style="left:1599px;top:686px;font-size:9.5px;color:#000;letter-spacing:-0.3px">0.005818</div><div class="t" style="left:1599px;top:714px;font-size:9.5px;color:#000;letter-spacing:-0.3px">0.00</div><div class="t" style="left:1597px;top:773px;font-size:9.5px;color:#000;letter-spacing:-0.3px">-0.011514</div><svg width="20" height="40" style="position:absolute;left:0;top:0"><polygon points="5.8,27.8 13.1,27.8 9.45,32" fill="#000"/></svg><div class="t" style="left:18px;top:25px;font-size:10px;color:#000;letter-spacing:-0.1px">USDCHF,Daily</div><div class="t" style="left:89px;top:25px;font-size:10px;color:#000;letter-spacing:-0.41px">0.90915 0.91063 0.90894 0.91003</div><div class="t" style="left:7px;top:583px;font-size:9.5px;color:#000;letter-spacing:-0.1px">RSI(14) 42.3622</div><div class="t" style="left:7px;top:687.5px;font-size:9.5px;color:#000;letter-spacing:-0.06px">MACD(12,26,9) -0.001198 -0.000729</div><div class="t" style="left:3px;top:788.5px;font-size:9.5px;color:#000;letter-spacing:-0.16px">17 Oct 2019</div><div class="t" style="left:67px;top:788.5px;font-size:9.5px;color:#000;letter-spacing:-0.16px">5 Nov 2019</div><div class="t" style="left:131px;top:788.5px;font-size:9.5px;color:#000;letter-spacing:-0.16px">23 Nov 2019</div><div class="t" style="left:195px;top:788.5px;font-size:9.5px;color:#000;letter-spacing:-0.16px">12 Dec 2019</div><div class="t" style="left:259px;top:788.5px;font-size:9.5px;color:#000;letter-spacing:-0.16px">31 Dec 2019</div><div class="t" style="left:323px;top:788.5px;font-size:9.5px;color:#000;letter-spacing:-0.16px">18 Jan 2020</div><div class="t" style="left:387px;top:788.5px;font-size:9.5px;color:#000;letter-spacing:-0.16px">6 Feb 2020</div><div class="t" style="left:451px;top:788.5px;font-size:9.5px;color:#000;letter-spacing:-0.16px">25 Feb 2020</div><div class="t" style="left:515px;top:788.5px;font-size:9.5px;color:#000;letter-spacing:-0.16px">14 Mar 2020</div><div class="t" style="left:579px;top:788.5px;font-size:9.5px;color:#000;letter-spacing:-0.16px">2 Apr 2020</div><div class="t" style="left:643px;top:788.5px;font-size:9.5px;color:#000;letter-spacing:-0.16px">21 Apr 2020</div><div class="t" style="left:707px;top:788.5px;font-size:9.5px;color:#000;letter-spacing:-0.16px">9 May 2020</div><div class="t" style="left:771px;top:788.5px;font-size:9.5px;color:#000;letter-spacing:-0.16px">28 May 2020</div><div class="t" style="left:835px;top:788.5px;font-size:9.5px;color:#000;letter-spacing:-0.16px">16 Jun 2020</div><div class="t" style="left:899px;top:788.5px;font-size:9.5px;color:#000;letter-spacing:-0.16px">4 Jul 2020</div><div class="t" style="left:963px;top:788.5px;font-size:9.5px;color:#000;letter-spacing:-0.16px">23 Jul 2020</div><div class="t" style="left:1027px;top:788.5px;font-size:9.5px;color:#000;letter-spacing:-0.16px">11 Aug 2020</div><div class="t" style="left:1091px;top:788.5px;font-size:9.5px;color:#000;letter-spacing:-0.16px">29 Aug 2020</div><div class="t" style="left:1155px;top:788.5px;font-size:9.5px;color:#000;letter-spacing:-0.16px">17 Sep 2020</div><div class="t" style="left:1219px;top:788.5px;font-size:9.5px;color:#000;letter-spacing:-0.16px">6 Oct 2020</div>
<div style="position:absolute;left:0;top:805px;width:1637px;height:1px;background:#e3e3e3"></div>
<div style="position:absolute;left:0;top:807px;width:1637px;height:1px;background:#000"></div>
<div style="position:absolute;left:0;top:809px;width:1637px;height:18px;background:#f0f0f0"></div>
<div style="position:absolute;left:0;top:827px;width:1637px;height:1px;background:#fff"></div>
<div style="position:absolute;left:0;top:828px;width:1637px;height:2px;background:#f0f0f0"></div>
<div style="position:absolute;left:0;top:830px;width:1637px;height:1px;background:#f5f5f5"></div>
<div style="position:absolute;left:0;top:831px;width:1637px;height:1px;background:#9a9a9a"></div>
<div style="position:absolute;left:107px;top:807px;width:1px;height:20px;background:#fff"></div>
<div style="position:absolute;left:108px;top:807px;width:98px;height:18px;background:#fff;border-left:1px solid #000;border-right:1px solid #000;border-bottom:1px solid #000"></div>
<div style="position:absolute;left:312px;top:810px;width:1px;height:14px;background:#555"></div><div style="position:absolute;left:416px;top:810px;width:1px;height:14px;background:#555"></div><div style="position:absolute;left:520px;top:810px;width:1px;height:14px;background:#555"></div><div style="position:absolute;left:624px;top:810px;width:1px;height:14px;background:#555"></div><div style="position:absolute;left:717px;top:810px;width:1px;height:14px;background:#555"></div><div style="position:absolute;left:808px;top:810px;width:1px;height:14px;background:#555"></div><div style="position:absolute;left:881px;top:810px;width:1px;height:14px;background:#555"></div><div style="position:absolute;left:960px;top:810px;width:1px;height:14px;background:#555"></div><div style="position:absolute;left:1040px;top:810px;width:1px;height:14px;background:#555"></div><div style="position:absolute;left:1121px;top:810px;width:1px;height:14px;background:#555"></div><div style="position:absolute;left:1196px;top:810px;width:1px;height:14px;background:#555"></div><div style="position:absolute;left:1268px;top:810px;width:1px;height:14px;background:#555"></div><div style="position:absolute;left:1352px;top:810px;width:1px;height:14px;background:#555"></div><div style="position:absolute;left:1432px;top:810px;width:1px;height:14px;background:#555"></div><div style="position:absolute;left:1532px;top:810px;width:1px;height:14px;background:#555"></div><div style="position:absolute;left:1604px;top:810px;width:1px;height:14px;background:#555"></div><div class="t" style="left:15.9px;top:812px;font-size:12px;color:#666;-webkit-text-stroke:0">EURUSD,Daily</div><div class="t" style="left:118px;top:812px;font-size:12px;color:#000;-webkit-text-stroke:0">USDCHF,Daily</div><div class="t" style="left:219.3px;top:812px;font-size:12px;color:#666;-webkit-text-stroke:0">AUDUSD,Daily</div><div class="t" style="left:323.2px;top:812px;font-size:12px;color:#666;-webkit-text-stroke:0">USDCAD,Daily</div><div class="t" style="left:425.9px;top:812px;font-size:12px;color:#666;-webkit-text-stroke:0">USDCNH,Daily</div><div class="t" style="left:531.9px;top:812px;font-size:12px;color:#666;-webkit-text-stroke:0">EURUSD,Daily</div><div class="t" style="left:635.8px;top:812px;font-size:12px;color:#666;-webkit-text-stroke:0">GBPUSD,H4</div><div class="t" style="left:726.8px;top:812px;font-size:12px;color:#666;-webkit-text-stroke:0">XAUUSD,H1</div><div class="t" style="left:819.2px;top:812px;font-size:12px;color:#666;-webkit-text-stroke:0">HK50,H1</div><div class="t" style="left:891px;top:812px;font-size:12px;color:#666;-webkit-text-stroke:0">UK100,H1</div><div class="t" style="left:971.4px;top:812px;font-size:12px;color:#666;-webkit-text-stroke:0">UK100,H1</div><div class="t" style="left:1051.4px;top:812px;font-size:12px;color:#666;-webkit-text-stroke:0">GER30,H1</div><div class="t" style="left:1130.2px;top:812px;font-size:12px;color:#666;-webkit-text-stroke:0">FRA40,H1</div><div class="t" style="left:1206.2px;top:812px;font-size:12px;color:#666;-webkit-text-stroke:0">USOil,H4</div><div class="t" style="left:1277.9px;top:812px;font-size:12px;color:#666;-webkit-text-stroke:0">USDJPY,H1</div><div class="t" style="left:1362px;top:812px;font-size:12px;color:#666;-webkit-text-stroke:0">DJ30,Daily</div><div class="t" style="left:1441.8px;top:812px;font-size:12px;color:#666;-webkit-text-stroke:0">CHINA300,H1</div><div class="t" style="left:1542.3px;top:812px;font-size:12px;color:#666;-webkit-text-stroke:0">USOil,H1</div>
<div style="position:absolute;left:1610px;top:813px;width:0;height:0;border-top:3.5px solid transparent;border-bottom:3.5px solid transparent;border-right:4px solid #aaa"></div>
<div style="position:absolute;left:1629px;top:813px;width:0;height:0;border-top:3.5px solid transparent;border-bottom:3.5px solid transparent;border-left:4px solid #000"></div>
</body></html>
